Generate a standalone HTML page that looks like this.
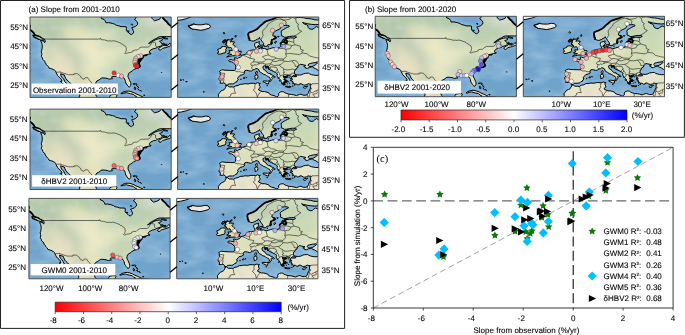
<!DOCTYPE html><html><head><meta charset="utf-8"><style>html,body{margin:0;padding:0;background:#fff;}body{width:685px;height:335px;overflow:hidden;}svg{display:block;will-change:transform;text-rendering:geometricPrecision;}text{font-family:"Liberation Sans",sans-serif;stroke:#000;stroke-width:0.1px;}text.serif{font-family:"Liberation Serif",serif;stroke-width:0.05px;}</style></head><body><svg width="685" height="335" viewBox="0 0 685 335" font-family='"Liberation Sans", sans-serif' fill="#000" stroke-linejoin="round"><defs><filter id="blur4" x="-50%" y="-50%" width="200%" height="200%"><feGaussianBlur stdDeviation="4"/></filter><clipPath id="mclip"><rect width="141.2" height="80.4"/></clipPath><filter id="otex" x="0" y="0" width="100%" height="100%"><feTurbulence type="fractalNoise" baseFrequency="0.035 0.08" numOctaves="3" seed="7"/><feColorMatrix type="matrix" values="0 0 0 0 0.60  0 0 0 0 0.78  0 0 0 0 0.92  0 0 0 0.75 -0.29"/></filter><filter id="ltex" x="0" y="0" width="100%" height="100%"><feTurbulence type="fractalNoise" baseFrequency="0.1" numOctaves="3" seed="11"/><feColorMatrix type="matrix" values="0 0 0 0 0.62  0 0 0 0 0.72  0 0 0 0 0.62  0 0 0 1.0 -0.43"/></filter><filter id="blur2" x="-20%" y="-20%" width="140%" height="140%"><feGaussianBlur stdDeviation="2"/></filter><clipPath id="naWclip"><path d="M-12.1,-4.0L-3.0,-4.0L-2.0,5.0L-0.4,7.6L0.0,8.6L-0.2,10.1L-1.0,10.9L-0.6,11.7L0.4,12.9L1.8,13.9L3.0,15.1L3.8,16.1L4.4,17.3L5.4,18.3L7.1,18.9L9.1,19.5L10.3,20.3L12.1,21.1L13.5,21.7L14.5,22.1L14.9,23.1L15.3,24.5L14.7,25.7L14.3,25.1L13.9,24.1L12.5,23.9L10.7,23.3L10.9,24.3L11.7,26.1L12.1,27.5L12.3,29.1L12.1,31.0L11.9,32.8L11.3,34.4L11.7,36.2L11.9,37.4L11.3,39.4L12.5,41.0L12.7,42.4L14.1,43.8L15.1,44.6L15.1,45.8L16.3,47.0L16.3,47.6L17.5,48.8L18.4,49.6L19.0,51.1L20.2,51.4L21.8,51.9L23.2,52.3L23.4,52.9L24.4,53.1L25.6,54.1L26.0,55.3L26.8,56.9L27.6,58.5L28.6,59.7L30.3,61.1L31.7,62.9L32.1,64.1L30.3,64.5L31.3,65.5L33.1,66.9L34.7,67.9L36.1,69.7L36.1,71.2L37.5,72.0L38.9,73.0L40.3,74.6L41.6,74.0L40.7,72.4L39.5,71.6L39.1,70.3L38.1,69.3L37.5,67.9L37.1,66.9L35.9,65.9L34.7,64.5L34.1,62.9L33.1,61.5L31.7,60.1L30.9,58.5L30.7,56.7L32.1,57.3L34.3,57.9L34.7,59.1L35.9,61.7L37.1,63.1L38.7,64.5L39.7,65.7L41.6,67.1L42.2,69.1L43.8,70.1L45.4,71.6L46.8,73.0L48.4,74.8L49.2,76.4L49.8,77.8L49.8,79.2L49.0,79.6L49.8,81.0L51.4,82.4L52.4,86.4L-12.1,86.4Z"/><path d="M68.2,84.4L68.4,82.0L67.8,80.6L66.2,79.0L65.8,77.6L65.2,76.2L65.0,74.6L65.2,72.2L65.6,70.3L66.2,68.5L65.8,66.7L66.0,65.1L67.0,63.9L68.8,63.1L70.6,61.9L71.2,61.1L73.0,60.9L75.2,61.1L77.1,61.3L78.3,61.9L79.7,62.1L81.5,61.7L82.3,61.9L81.9,60.5L81.5,59.9L82.7,59.5L84.3,59.5L85.1,59.5L86.3,59.5L87.7,59.5L89.4,60.1L90.2,60.9L91.8,60.3L92.8,60.1L93.6,60.7L94.6,62.1L95.2,63.3L95.4,64.7L95.8,65.9L96.6,67.1L97.2,68.1L98.2,69.1L98.6,69.9L99.6,69.9L100.1,69.5L100.7,68.3L100.9,66.7L100.5,65.3L99.6,63.5L99.2,62.3L98.4,60.9L98.0,59.5L98.2,57.9L98.6,56.7L99.4,55.7L101.1,54.7L102.5,53.7L103.7,52.5L105.1,52.1L106.3,51.1L107.7,50.9L108.9,50.3L109.9,49.6L109.7,48.6L109.3,47.4L108.9,46.4L108.3,46.2L108.1,45.2L108.3,43.8L107.9,42.4L108.5,41.4L108.9,42.8L109.1,44.2L109.1,45.6L109.7,44.8L110.5,43.6L110.9,42.6L110.3,41.8L109.9,41.2L110.9,41.8L111.1,42.3L112.0,41.6L112.8,40.6L113.0,39.4L112.8,38.8L113.4,38.4L115.0,38.0L117.0,37.6L118.2,37.2L119.2,37.2L119.8,37.0L121.0,36.8L121.1,36.3L120.8,36.1L120.0,36.6L119.6,35.8L119.2,35.0L119.6,34.2L120.6,33.0L122.0,32.4L123.4,31.6L125.1,31.4L126.7,30.8L127.3,30.1L128.9,29.7L130.5,29.1L131.9,28.5L132.5,28.9L131.5,29.5L129.7,30.6L128.7,31.4L128.9,32.6L130.1,33.2L131.5,32.4L132.7,31.4L133.9,31.0L135.1,30.8L137.2,30.1L139.2,29.5L140.6,28.7L141.6,28.3L140.8,27.5L140.4,26.5L140.0,26.0L139.2,26.9L138.2,28.1L137.2,28.7L135.8,28.7L134.1,28.5L132.7,28.1L131.9,27.1L131.5,26.1L130.5,24.9L129.5,24.3L130.7,23.9L132.1,23.5L132.7,22.5L131.9,21.9L130.1,21.6L128.1,21.9L126.1,22.5L124.1,23.5L122.2,24.7L120.8,25.7L119.2,26.3L118.6,26.4L119.8,25.5L121.2,24.3L122.8,23.3L124.5,22.3L126.3,21.5L128.1,20.3L130.1,19.7L132.1,19.6L134.1,19.6L136.6,19.6L139.2,19.7L141.2,19.5L142.8,18.7L144.4,17.7L146.6,17.1L148.3,16.5L149.3,15.5L149.7,14.1L148.7,12.9L146.6,11.5L144.2,11.1L142.0,9.6L140.2,8.4L138.4,7.0L137.4,5.6L136.2,4.2L134.7,3.0L133.3,1.4L132.1,-0.4L131.9,-4.0L161.4,-4.0L161.4,90.5L85.7,90.5L85.7,82.4L85.9,80.4L86.5,79.4L87.1,78.0L86.7,77.3L83.7,77.4L81.5,77.8L80.1,78.4L79.8,79.4L79.5,81.4L79.3,84.4Z"/><path d="M70.6,-4.0L71.0,0.0L71.6,1.6L74.0,2.4L75.4,4.2L76.0,5.8L78.7,5.6L82.3,6.4L84.7,7.2L86.1,8.2L88.8,8.8L91.0,9.6L93.8,9.6L96.2,9.8L96.4,11.7L96.2,13.5L97.6,14.9L99.0,15.9L100.1,17.1L101.5,17.5L102.5,16.9L103.3,15.9L103.7,14.9L103.1,13.5L102.7,11.9L101.5,10.9L103.3,10.3L105.5,9.4L107.5,7.6L107.7,6.0L106.9,4.6L105.9,3.4L104.5,2.6L105.7,1.2L106.1,0.0L105.7,-1.6L104.9,-4.0Z"/><path d="M131.9,-4.0L131.7,-0.6L130.7,0.4L129.9,2.0L127.9,2.8L125.9,3.4L124.5,3.8L123.2,2.6L122.2,1.6L121.6,0.2L121.0,-1.0L120.0,-4.0Z"/></clipPath><clipPath id="euWclip"><path d="M-10.1,84.4L40.3,84.4L40.7,81.4L40.9,79.4L40.7,77.4L41.9,75.8L43.4,73.9L45.2,73.2L46.8,72.4L47.8,70.8L48.4,69.5L48.6,68.7L49.2,68.3L48.4,67.7L47.8,67.1L47.6,66.7L46.4,65.9L45.6,65.9L44.6,66.3L43.2,66.1L42.4,66.3L42.8,64.5L42.6,63.3L41.6,62.9L41.4,61.5L42.4,59.9L42.8,58.3L42.6,56.5L42.6,55.1L41.8,54.3L43.8,53.1L45.0,52.8L47.4,53.2L50.4,53.3L52.8,53.4L55.5,53.5L56.9,53.5L57.7,52.5L58.1,50.9L58.1,49.0L57.7,47.8L56.3,46.6L55.5,45.6L53.9,44.8L51.8,44.6L51.0,43.6L51.4,43.0L53.5,42.6L55.1,43.2L57.3,43.0L57.3,41.8L56.7,40.8L58.1,40.8L60.1,41.6L60.9,40.8L62.9,40.2L63.7,39.4L63.7,38.4L65.6,38.0L67.4,37.4L68.2,36.6L69.0,36.0L69.8,34.8L70.2,34.2L71.6,33.6L73.6,33.2L74.8,33.0L76.7,33.0L77.9,32.4L78.5,31.8L77.9,30.4L77.3,29.1L76.9,28.1L77.1,26.5L77.9,25.9L79.9,25.3L81.9,24.6L81.7,25.7L81.3,26.7L82.5,27.3L81.7,28.1L80.7,28.7L79.9,29.3L80.1,30.4L80.7,31.2L82.5,31.6L82.9,32.2L84.7,31.8L86.7,31.4L88.4,32.0L89.4,32.4L91.8,31.8L93.8,31.2L95.8,30.6L98.0,30.8L98.0,31.4L100.1,31.3L101.9,30.4L103.1,29.7L103.3,28.1L102.9,26.5L104.1,25.3L106.1,24.6L107.5,25.9L109.1,26.1L109.7,24.3L108.9,23.5L107.9,22.7L107.9,21.7L109.9,21.1L113.0,20.9L117.0,21.1L119.0,20.1L118.0,19.3L115.0,19.1L112.0,19.5L108.9,20.1L106.9,20.3L105.5,19.3L103.7,18.7L103.9,16.7L103.5,15.1L103.9,13.7L105.9,12.5L107.9,11.3L109.9,10.3L111.7,9.6L111.5,8.8L110.1,8.4L107.9,8.4L105.3,8.6L103.5,9.6L103.3,10.9L101.5,12.3L99.8,13.1L97.8,14.1L96.2,15.3L95.4,17.1L95.2,18.7L97.2,19.5L98.6,20.7L97.4,21.5L96.0,22.1L94.2,22.9L94.0,24.3L93.6,26.1L92.6,27.7L90.2,27.7L89.2,29.3L86.5,29.3L86.5,28.3L85.9,27.7L86.3,26.9L85.3,25.5L84.3,24.1L83.3,22.5L82.3,21.5L81.9,20.4L81.3,21.7L79.9,22.1L77.9,23.3L75.6,24.1L73.8,23.9L71.8,22.9L71.8,21.5L71.0,20.9L71.0,19.3L70.6,18.1L70.8,16.5L71.4,15.7L73.2,14.9L75.0,14.3L76.7,13.5L78.3,12.7L79.9,11.7L81.1,10.3L82.7,8.8L84.5,7.4L86.1,6.0L87.5,4.8L89.2,4.0L91.2,3.4L92.8,2.8L94.6,2.4L96.8,1.4L98.4,0.6L99.8,0.2L101.9,-0.2L103.9,0.4L105.9,0.0L107.9,0.1L109.9,-0.1L112.0,0.2L114.0,-0.2L117.0,-0.1L119.0,0.4L121.0,0.6L123.0,0.4L126.1,0.8L128.1,1.3L131.1,1.6L134.1,2.0L137.2,2.8L140.2,3.0L142.2,2.8L145.2,2.8L145.2,-4.0L-10.1,-4.0Z"/><path d="M48.0,68.7L48.6,68.7L49.8,68.5L51.6,69.9L54.5,69.9L56.1,70.1L58.1,68.9L60.5,68.5L62.5,67.3L65.6,67.1L67.6,66.7L70.6,66.9L73.2,66.3L75.6,66.3L77.9,66.5L80.1,65.7L81.1,65.9L81.3,66.7L82.7,66.1L81.9,67.3L81.7,68.7L82.7,69.7L82.1,71.2L80.9,72.0L81.1,73.0L82.9,73.8L84.7,74.6L87.1,74.6L89.4,75.2L91.2,75.8L92.0,77.2L93.8,78.0L96.4,78.6L98.0,79.4L99.0,79.8L100.3,79.4L101.1,78.4L100.9,76.8L101.5,75.8L102.9,75.0L104.5,74.6L106.1,74.8L107.3,75.8L108.9,76.4L111.3,77.2L114.0,77.4L116.2,77.8L118.8,78.6L120.4,78.0L121.8,77.4L123.4,77.2L125.1,78.0L126.3,78.2L128.1,78.2L129.5,77.8L130.3,76.8L130.9,75.4L131.1,74.4L131.9,73.2L132.7,71.4L132.9,69.7L132.7,68.3L133.5,67.1L132.1,67.1L130.5,66.7L129.1,67.7L127.1,68.1L125.7,67.9L124.1,66.9L122.2,66.7L121.8,67.7L120.2,67.9L118.6,66.9L117.0,66.9L115.8,66.3L115.4,65.1L115.0,64.3L113.8,63.7L114.6,62.9L114.8,61.9L113.4,61.5L114.2,60.7L113.4,60.2L113.4,59.5L113.0,59.1L110.9,58.4L108.9,58.7L108.3,59.5L109.5,60.1L107.7,60.5L106.1,59.3L106.1,60.3L106.7,61.5L107.3,62.3L106.1,62.5L107.9,63.3L108.9,63.9L108.9,64.9L107.1,64.5L106.5,65.3L107.1,67.3L105.9,67.5L105.5,66.5L104.7,66.7L104.3,66.5L104.1,65.1L103.1,64.5L103.7,63.7L103.3,63.3L102.3,62.5L101.3,61.1L100.9,60.9L99.8,59.7L99.4,58.5L99.8,56.9L98.8,56.1L97.8,55.4L96.0,54.5L93.8,53.5L92.6,53.1L91.2,51.7L90.6,50.0L89.4,49.6L88.6,50.7L87.9,50.0L88.1,48.8L86.7,48.8L85.3,49.6L85.5,51.1L85.9,52.3L87.9,53.3L89.2,55.3L91.0,56.5L92.8,56.5L92.6,57.1L94.6,58.1L96.8,59.1L97.8,60.1L96.8,60.5L95.2,59.5L94.0,60.5L95.0,61.5L94.0,62.7L93.0,64.3L92.2,64.4L92.0,63.7L92.8,62.9L92.4,61.1L91.8,60.1L90.6,59.7L89.8,59.1L88.8,58.7L88.1,57.9L85.9,57.3L84.3,56.1L82.9,55.3L81.7,54.3L81.3,52.7L79.7,51.7L78.3,51.5L77.1,52.5L75.6,52.7L74.0,53.9L72.6,54.1L70.6,53.6L69.0,53.3L67.2,53.7L66.6,55.3L67.0,56.5L65.0,57.7L62.5,58.2L61.9,58.9L60.5,60.5L59.9,61.5L60.7,62.7L59.5,63.7L59.1,65.1L57.7,65.3L56.3,66.7L54.7,66.9L51.6,66.9L50.4,67.4L49.7,68.1L49.2,68.3L48.0,68.1Z"/><path d="M117.0,57.1L119.2,57.9L122.0,58.1L124.1,57.7L126.1,56.7L128.1,56.3L131.1,56.1L132.1,56.9L134.1,57.7L136.2,58.1L138.2,58.4L140.6,58.3L142.2,57.7L144.2,57.3L144.6,56.3L144.2,54.9L141.8,54.1L140.2,53.1L138.2,51.7L136.2,50.9L135.1,50.0L134.3,49.6L133.3,50.1L131.9,50.3L130.1,51.3L128.1,51.3L127.9,50.3L126.1,49.5L128.3,48.4L126.5,48.0L124.5,47.6L122.6,47.2L121.4,48.4L120.4,49.6L120.2,50.7L118.6,51.4L118.2,52.9L117.0,53.7L116.8,55.1L116.8,56.3Z"/><path d="M131.3,49.2L132.1,49.6L134.3,49.6L136.2,48.8L137.8,47.8L140.0,46.0L139.2,45.4L137.6,45.6L135.8,45.8L133.1,46.4L131.1,47.0L130.5,48.2Z"/><path d="M114.4,59.5L116.0,59.7L119.0,59.5L119.0,58.5L117.0,58.3L115.4,58.5Z"/><path d="M124.9,5.4L126.7,6.0L130.1,6.8L134.1,7.4L138.2,7.7L141.2,7.4L143.2,6.8L145.2,6.8L145.2,12.1L142.2,11.1L140.6,10.3L138.8,9.6L136.8,10.9L135.6,12.1L133.5,12.3L131.5,11.5L130.5,10.3L130.3,8.8L128.7,7.6L126.3,6.8Z"/></clipPath><g id="naMap" clip-path="url(#mclip)"><rect width="141.2" height="80.4" fill="#e5e5c2"/><g filter="url(#blur4)"><ellipse cx="66.6" cy="4.0" rx="80.7" ry="10.1" fill="#b4caac" opacity="1.0"/><ellipse cx="117.0" cy="10.1" rx="24.2" ry="10.1" fill="#bccdb2" opacity="1.0"/><ellipse cx="100.9" cy="22.1" rx="20.2" ry="8.0" fill="#bccfae" opacity="1.0"/><ellipse cx="125.1" cy="26.1" rx="12.1" ry="6.0" fill="#c0d2b0" opacity="1.0"/><ellipse cx="129.1" cy="3.0" rx="16.1" ry="6.0" fill="#d8ddd0" opacity="1.0"/><ellipse cx="12.1" cy="14.1" rx="12.1" ry="14.1" fill="#b4c8ac" opacity="1.0"/><ellipse cx="28.2" cy="20.1" rx="10.1" ry="10.1" fill="#bccbb0" opacity="1.0"/><ellipse cx="44.4" cy="14.1" rx="14.1" ry="6.0" fill="#e0e2bc" opacity="1.0"/><ellipse cx="60.5" cy="38.2" rx="18.2" ry="14.1" fill="#eae8c6" opacity="1.0"/><ellipse cx="38.3" cy="40.2" rx="12.1" ry="12.1" fill="#e4dcc0" opacity="1.0"/><ellipse cx="40.3" cy="32.2" rx="6.1" ry="6.0" fill="#c6d0b4" opacity="1.0"/><ellipse cx="48.4" cy="44.2" rx="6.1" ry="8.0" fill="#c8d0b6" opacity="1.0"/><ellipse cx="32.3" cy="54.3" rx="14.1" ry="8.0" fill="#ebe0c2" opacity="1.0"/><ellipse cx="96.8" cy="48.2" rx="12.1" ry="12.1" fill="#c6d6b6" opacity="1.0"/><ellipse cx="84.7" cy="54.3" rx="10.1" ry="8.0" fill="#d4dec0" opacity="1.0"/><ellipse cx="80.7" cy="26.1" rx="12.1" ry="5.0" fill="#c8d6b4" opacity="1.0"/><ellipse cx="54.5" cy="68.3" rx="12.1" ry="10.1" fill="#e2dcb8" opacity="1.0"/><ellipse cx="48.4" cy="60.3" rx="6.1" ry="8.0" fill="#ccd2b2" opacity="1.0"/><ellipse cx="62.5" cy="76.4" rx="8.1" ry="6.0" fill="#c8d2b4" opacity="1.0"/><ellipse cx="82.7" cy="79.8" rx="5.0" ry="3.0" fill="#b6cca8" opacity="1.0"/><ellipse cx="18.2" cy="40.2" rx="5.0" ry="6.0" fill="#c8d2b4" opacity="1.0"/><ellipse cx="24.2" cy="18.1" rx="8.1" ry="8.0" fill="#b8c8ac" opacity="1.0"/><ellipse cx="32.3" cy="28.1" rx="8.1" ry="7.0" fill="#c2ceb2" opacity="1.0"/><ellipse cx="42.4" cy="36.2" rx="7.1" ry="7.0" fill="#c8d0b6" opacity="1.0"/><ellipse cx="48.4" cy="46.2" rx="5.0" ry="7.0" fill="#c6d0b4" opacity="1.0"/><ellipse cx="17.1" cy="30.1" rx="4.0" ry="6.0" fill="#c4d0b2" opacity="1.0"/><ellipse cx="92.8" cy="50.3" rx="12.1" ry="8.0" fill="#c4d4b2" opacity="1.0"/><ellipse cx="80.7" cy="58.3" rx="10.1" ry="5.0" fill="#ccd8b6" opacity="1.0"/></g><rect width="141.2" height="80.4" filter="url(#ltex)"/><g fill="#70a3cb"><path d="M-12.1,-4.0L-3.0,-4.0L-2.0,5.0L-0.4,7.6L0.0,8.6L-0.2,10.1L-1.0,10.9L-0.6,11.7L0.4,12.9L1.8,13.9L3.0,15.1L3.8,16.1L4.4,17.3L5.4,18.3L7.1,18.9L9.1,19.5L10.3,20.3L12.1,21.1L13.5,21.7L14.5,22.1L14.9,23.1L15.3,24.5L14.7,25.7L14.3,25.1L13.9,24.1L12.5,23.9L10.7,23.3L10.9,24.3L11.7,26.1L12.1,27.5L12.3,29.1L12.1,31.0L11.9,32.8L11.3,34.4L11.7,36.2L11.9,37.4L11.3,39.4L12.5,41.0L12.7,42.4L14.1,43.8L15.1,44.6L15.1,45.8L16.3,47.0L16.3,47.6L17.5,48.8L18.4,49.6L19.0,51.1L20.2,51.4L21.8,51.9L23.2,52.3L23.4,52.9L24.4,53.1L25.6,54.1L26.0,55.3L26.8,56.9L27.6,58.5L28.6,59.7L30.3,61.1L31.7,62.9L32.1,64.1L30.3,64.5L31.3,65.5L33.1,66.9L34.7,67.9L36.1,69.7L36.1,71.2L37.5,72.0L38.9,73.0L40.3,74.6L41.6,74.0L40.7,72.4L39.5,71.6L39.1,70.3L38.1,69.3L37.5,67.9L37.1,66.9L35.9,65.9L34.7,64.5L34.1,62.9L33.1,61.5L31.7,60.1L30.9,58.5L30.7,56.7L32.1,57.3L34.3,57.9L34.7,59.1L35.9,61.7L37.1,63.1L38.7,64.5L39.7,65.7L41.6,67.1L42.2,69.1L43.8,70.1L45.4,71.6L46.8,73.0L48.4,74.8L49.2,76.4L49.8,77.8L49.8,79.2L49.0,79.6L49.8,81.0L51.4,82.4L52.4,86.4L-12.1,86.4Z"/><path d="M68.2,84.4L68.4,82.0L67.8,80.6L66.2,79.0L65.8,77.6L65.2,76.2L65.0,74.6L65.2,72.2L65.6,70.3L66.2,68.5L65.8,66.7L66.0,65.1L67.0,63.9L68.8,63.1L70.6,61.9L71.2,61.1L73.0,60.9L75.2,61.1L77.1,61.3L78.3,61.9L79.7,62.1L81.5,61.7L82.3,61.9L81.9,60.5L81.5,59.9L82.7,59.5L84.3,59.5L85.1,59.5L86.3,59.5L87.7,59.5L89.4,60.1L90.2,60.9L91.8,60.3L92.8,60.1L93.6,60.7L94.6,62.1L95.2,63.3L95.4,64.7L95.8,65.9L96.6,67.1L97.2,68.1L98.2,69.1L98.6,69.9L99.6,69.9L100.1,69.5L100.7,68.3L100.9,66.7L100.5,65.3L99.6,63.5L99.2,62.3L98.4,60.9L98.0,59.5L98.2,57.9L98.6,56.7L99.4,55.7L101.1,54.7L102.5,53.7L103.7,52.5L105.1,52.1L106.3,51.1L107.7,50.9L108.9,50.3L109.9,49.6L109.7,48.6L109.3,47.4L108.9,46.4L108.3,46.2L108.1,45.2L108.3,43.8L107.9,42.4L108.5,41.4L108.9,42.8L109.1,44.2L109.1,45.6L109.7,44.8L110.5,43.6L110.9,42.6L110.3,41.8L109.9,41.2L110.9,41.8L111.1,42.3L112.0,41.6L112.8,40.6L113.0,39.4L112.8,38.8L113.4,38.4L115.0,38.0L117.0,37.6L118.2,37.2L119.2,37.2L119.8,37.0L121.0,36.8L121.1,36.3L120.8,36.1L120.0,36.6L119.6,35.8L119.2,35.0L119.6,34.2L120.6,33.0L122.0,32.4L123.4,31.6L125.1,31.4L126.7,30.8L127.3,30.1L128.9,29.7L130.5,29.1L131.9,28.5L132.5,28.9L131.5,29.5L129.7,30.6L128.7,31.4L128.9,32.6L130.1,33.2L131.5,32.4L132.7,31.4L133.9,31.0L135.1,30.8L137.2,30.1L139.2,29.5L140.6,28.7L141.6,28.3L140.8,27.5L140.4,26.5L140.0,26.0L139.2,26.9L138.2,28.1L137.2,28.7L135.8,28.7L134.1,28.5L132.7,28.1L131.9,27.1L131.5,26.1L130.5,24.9L129.5,24.3L130.7,23.9L132.1,23.5L132.7,22.5L131.9,21.9L130.1,21.6L128.1,21.9L126.1,22.5L124.1,23.5L122.2,24.7L120.8,25.7L119.2,26.3L118.6,26.4L119.8,25.5L121.2,24.3L122.8,23.3L124.5,22.3L126.3,21.5L128.1,20.3L130.1,19.7L132.1,19.6L134.1,19.6L136.6,19.6L139.2,19.7L141.2,19.5L142.8,18.7L144.4,17.7L146.6,17.1L148.3,16.5L149.3,15.5L149.7,14.1L148.7,12.9L146.6,11.5L144.2,11.1L142.0,9.6L140.2,8.4L138.4,7.0L137.4,5.6L136.2,4.2L134.7,3.0L133.3,1.4L132.1,-0.4L131.9,-4.0L161.4,-4.0L161.4,90.5L85.7,90.5L85.7,82.4L85.9,80.4L86.5,79.4L87.1,78.0L86.7,77.3L83.7,77.4L81.5,77.8L80.1,78.4L79.8,79.4L79.5,81.4L79.3,84.4Z"/><path d="M70.6,-4.0L71.0,0.0L71.6,1.6L74.0,2.4L75.4,4.2L76.0,5.8L78.7,5.6L82.3,6.4L84.7,7.2L86.1,8.2L88.8,8.8L91.0,9.6L93.8,9.6L96.2,9.8L96.4,11.7L96.2,13.5L97.6,14.9L99.0,15.9L100.1,17.1L101.5,17.5L102.5,16.9L103.3,15.9L103.7,14.9L103.1,13.5L102.7,11.9L101.5,10.9L103.3,10.3L105.5,9.4L107.5,7.6L107.7,6.0L106.9,4.6L105.9,3.4L104.5,2.6L105.7,1.2L106.1,0.0L105.7,-1.6L104.9,-4.0Z"/><path d="M131.9,-4.0L131.7,-0.6L130.7,0.4L129.9,2.0L127.9,2.8L125.9,3.4L124.5,3.8L123.2,2.6L122.2,1.6L121.6,0.2L121.0,-1.0L120.0,-4.0Z"/></g><g clip-path="url(#naWclip)"><g fill="none" stroke="#80b4da" stroke-width="5" filter="url(#blur2)"><path d="M-12.1,-4.0L-3.0,-4.0L-2.0,5.0L-0.4,7.6L0.0,8.6L-0.2,10.1L-1.0,10.9L-0.6,11.7L0.4,12.9L1.8,13.9L3.0,15.1L3.8,16.1L4.4,17.3L5.4,18.3L7.1,18.9L9.1,19.5L10.3,20.3L12.1,21.1L13.5,21.7L14.5,22.1L14.9,23.1L15.3,24.5L14.7,25.7L14.3,25.1L13.9,24.1L12.5,23.9L10.7,23.3L10.9,24.3L11.7,26.1L12.1,27.5L12.3,29.1L12.1,31.0L11.9,32.8L11.3,34.4L11.7,36.2L11.9,37.4L11.3,39.4L12.5,41.0L12.7,42.4L14.1,43.8L15.1,44.6L15.1,45.8L16.3,47.0L16.3,47.6L17.5,48.8L18.4,49.6L19.0,51.1L20.2,51.4L21.8,51.9L23.2,52.3L23.4,52.9L24.4,53.1L25.6,54.1L26.0,55.3L26.8,56.9L27.6,58.5L28.6,59.7L30.3,61.1L31.7,62.9L32.1,64.1L30.3,64.5L31.3,65.5L33.1,66.9L34.7,67.9L36.1,69.7L36.1,71.2L37.5,72.0L38.9,73.0L40.3,74.6L41.6,74.0L40.7,72.4L39.5,71.6L39.1,70.3L38.1,69.3L37.5,67.9L37.1,66.9L35.9,65.9L34.7,64.5L34.1,62.9L33.1,61.5L31.7,60.1L30.9,58.5L30.7,56.7L32.1,57.3L34.3,57.9L34.7,59.1L35.9,61.7L37.1,63.1L38.7,64.5L39.7,65.7L41.6,67.1L42.2,69.1L43.8,70.1L45.4,71.6L46.8,73.0L48.4,74.8L49.2,76.4L49.8,77.8L49.8,79.2L49.0,79.6L49.8,81.0L51.4,82.4L52.4,86.4L-12.1,86.4Z"/><path d="M68.2,84.4L68.4,82.0L67.8,80.6L66.2,79.0L65.8,77.6L65.2,76.2L65.0,74.6L65.2,72.2L65.6,70.3L66.2,68.5L65.8,66.7L66.0,65.1L67.0,63.9L68.8,63.1L70.6,61.9L71.2,61.1L73.0,60.9L75.2,61.1L77.1,61.3L78.3,61.9L79.7,62.1L81.5,61.7L82.3,61.9L81.9,60.5L81.5,59.9L82.7,59.5L84.3,59.5L85.1,59.5L86.3,59.5L87.7,59.5L89.4,60.1L90.2,60.9L91.8,60.3L92.8,60.1L93.6,60.7L94.6,62.1L95.2,63.3L95.4,64.7L95.8,65.9L96.6,67.1L97.2,68.1L98.2,69.1L98.6,69.9L99.6,69.9L100.1,69.5L100.7,68.3L100.9,66.7L100.5,65.3L99.6,63.5L99.2,62.3L98.4,60.9L98.0,59.5L98.2,57.9L98.6,56.7L99.4,55.7L101.1,54.7L102.5,53.7L103.7,52.5L105.1,52.1L106.3,51.1L107.7,50.9L108.9,50.3L109.9,49.6L109.7,48.6L109.3,47.4L108.9,46.4L108.3,46.2L108.1,45.2L108.3,43.8L107.9,42.4L108.5,41.4L108.9,42.8L109.1,44.2L109.1,45.6L109.7,44.8L110.5,43.6L110.9,42.6L110.3,41.8L109.9,41.2L110.9,41.8L111.1,42.3L112.0,41.6L112.8,40.6L113.0,39.4L112.8,38.8L113.4,38.4L115.0,38.0L117.0,37.6L118.2,37.2L119.2,37.2L119.8,37.0L121.0,36.8L121.1,36.3L120.8,36.1L120.0,36.6L119.6,35.8L119.2,35.0L119.6,34.2L120.6,33.0L122.0,32.4L123.4,31.6L125.1,31.4L126.7,30.8L127.3,30.1L128.9,29.7L130.5,29.1L131.9,28.5L132.5,28.9L131.5,29.5L129.7,30.6L128.7,31.4L128.9,32.6L130.1,33.2L131.5,32.4L132.7,31.4L133.9,31.0L135.1,30.8L137.2,30.1L139.2,29.5L140.6,28.7L141.6,28.3L140.8,27.5L140.4,26.5L140.0,26.0L139.2,26.9L138.2,28.1L137.2,28.7L135.8,28.7L134.1,28.5L132.7,28.1L131.9,27.1L131.5,26.1L130.5,24.9L129.5,24.3L130.7,23.9L132.1,23.5L132.7,22.5L131.9,21.9L130.1,21.6L128.1,21.9L126.1,22.5L124.1,23.5L122.2,24.7L120.8,25.7L119.2,26.3L118.6,26.4L119.8,25.5L121.2,24.3L122.8,23.3L124.5,22.3L126.3,21.5L128.1,20.3L130.1,19.7L132.1,19.6L134.1,19.6L136.6,19.6L139.2,19.7L141.2,19.5L142.8,18.7L144.4,17.7L146.6,17.1L148.3,16.5L149.3,15.5L149.7,14.1L148.7,12.9L146.6,11.5L144.2,11.1L142.0,9.6L140.2,8.4L138.4,7.0L137.4,5.6L136.2,4.2L134.7,3.0L133.3,1.4L132.1,-0.4L131.9,-4.0L161.4,-4.0L161.4,90.5L85.7,90.5L85.7,82.4L85.9,80.4L86.5,79.4L87.1,78.0L86.7,77.3L83.7,77.4L81.5,77.8L80.1,78.4L79.8,79.4L79.5,81.4L79.3,84.4Z"/><path d="M70.6,-4.0L71.0,0.0L71.6,1.6L74.0,2.4L75.4,4.2L76.0,5.8L78.7,5.6L82.3,6.4L84.7,7.2L86.1,8.2L88.8,8.8L91.0,9.6L93.8,9.6L96.2,9.8L96.4,11.7L96.2,13.5L97.6,14.9L99.0,15.9L100.1,17.1L101.5,17.5L102.5,16.9L103.3,15.9L103.7,14.9L103.1,13.5L102.7,11.9L101.5,10.9L103.3,10.3L105.5,9.4L107.5,7.6L107.7,6.0L106.9,4.6L105.9,3.4L104.5,2.6L105.7,1.2L106.1,0.0L105.7,-1.6L104.9,-4.0Z"/><path d="M131.9,-4.0L131.7,-0.6L130.7,0.4L129.9,2.0L127.9,2.8L125.9,3.4L124.5,3.8L123.2,2.6L122.2,1.6L121.6,0.2L121.0,-1.0L120.0,-4.0Z"/></g><rect width="141.2" height="80.4" filter="url(#otex)"/></g><g fill="none" stroke="#000" stroke-width="1.0" stroke-linejoin="round"><path d="M-12.1,-4.0L-3.0,-4.0L-2.0,5.0L-0.4,7.6L0.0,8.6L-0.2,10.1L-1.0,10.9L-0.6,11.7L0.4,12.9L1.8,13.9L3.0,15.1L3.8,16.1L4.4,17.3L5.4,18.3L7.1,18.9L9.1,19.5L10.3,20.3L12.1,21.1L13.5,21.7L14.5,22.1L14.9,23.1L15.3,24.5L14.7,25.7L14.3,25.1L13.9,24.1L12.5,23.9L10.7,23.3L10.9,24.3L11.7,26.1L12.1,27.5L12.3,29.1L12.1,31.0L11.9,32.8L11.3,34.4L11.7,36.2L11.9,37.4L11.3,39.4L12.5,41.0L12.7,42.4L14.1,43.8L15.1,44.6L15.1,45.8L16.3,47.0L16.3,47.6L17.5,48.8L18.4,49.6L19.0,51.1L20.2,51.4L21.8,51.9L23.2,52.3L23.4,52.9L24.4,53.1L25.6,54.1L26.0,55.3L26.8,56.9L27.6,58.5L28.6,59.7L30.3,61.1L31.7,62.9L32.1,64.1L30.3,64.5L31.3,65.5L33.1,66.9L34.7,67.9L36.1,69.7L36.1,71.2L37.5,72.0L38.9,73.0L40.3,74.6L41.6,74.0L40.7,72.4L39.5,71.6L39.1,70.3L38.1,69.3L37.5,67.9L37.1,66.9L35.9,65.9L34.7,64.5L34.1,62.9L33.1,61.5L31.7,60.1L30.9,58.5L30.7,56.7L32.1,57.3L34.3,57.9L34.7,59.1L35.9,61.7L37.1,63.1L38.7,64.5L39.7,65.7L41.6,67.1L42.2,69.1L43.8,70.1L45.4,71.6L46.8,73.0L48.4,74.8L49.2,76.4L49.8,77.8L49.8,79.2L49.0,79.6L49.8,81.0L51.4,82.4L52.4,86.4L-12.1,86.4Z"/><path d="M68.2,84.4L68.4,82.0L67.8,80.6L66.2,79.0L65.8,77.6L65.2,76.2L65.0,74.6L65.2,72.2L65.6,70.3L66.2,68.5L65.8,66.7L66.0,65.1L67.0,63.9L68.8,63.1L70.6,61.9L71.2,61.1L73.0,60.9L75.2,61.1L77.1,61.3L78.3,61.9L79.7,62.1L81.5,61.7L82.3,61.9L81.9,60.5L81.5,59.9L82.7,59.5L84.3,59.5L85.1,59.5L86.3,59.5L87.7,59.5L89.4,60.1L90.2,60.9L91.8,60.3L92.8,60.1L93.6,60.7L94.6,62.1L95.2,63.3L95.4,64.7L95.8,65.9L96.6,67.1L97.2,68.1L98.2,69.1L98.6,69.9L99.6,69.9L100.1,69.5L100.7,68.3L100.9,66.7L100.5,65.3L99.6,63.5L99.2,62.3L98.4,60.9L98.0,59.5L98.2,57.9L98.6,56.7L99.4,55.7L101.1,54.7L102.5,53.7L103.7,52.5L105.1,52.1L106.3,51.1L107.7,50.9L108.9,50.3L109.9,49.6L109.7,48.6L109.3,47.4L108.9,46.4L108.3,46.2L108.1,45.2L108.3,43.8L107.9,42.4L108.5,41.4L108.9,42.8L109.1,44.2L109.1,45.6L109.7,44.8L110.5,43.6L110.9,42.6L110.3,41.8L109.9,41.2L110.9,41.8L111.1,42.3L112.0,41.6L112.8,40.6L113.0,39.4L112.8,38.8L113.4,38.4L115.0,38.0L117.0,37.6L118.2,37.2L119.2,37.2L119.8,37.0L121.0,36.8L121.1,36.3L120.8,36.1L120.0,36.6L119.6,35.8L119.2,35.0L119.6,34.2L120.6,33.0L122.0,32.4L123.4,31.6L125.1,31.4L126.7,30.8L127.3,30.1L128.9,29.7L130.5,29.1L131.9,28.5L132.5,28.9L131.5,29.5L129.7,30.6L128.7,31.4L128.9,32.6L130.1,33.2L131.5,32.4L132.7,31.4L133.9,31.0L135.1,30.8L137.2,30.1L139.2,29.5L140.6,28.7L141.6,28.3L140.8,27.5L140.4,26.5L140.0,26.0L139.2,26.9L138.2,28.1L137.2,28.7L135.8,28.7L134.1,28.5L132.7,28.1L131.9,27.1L131.5,26.1L130.5,24.9L129.5,24.3L130.7,23.9L132.1,23.5L132.7,22.5L131.9,21.9L130.1,21.6L128.1,21.9L126.1,22.5L124.1,23.5L122.2,24.7L120.8,25.7L119.2,26.3L118.6,26.4L119.8,25.5L121.2,24.3L122.8,23.3L124.5,22.3L126.3,21.5L128.1,20.3L130.1,19.7L132.1,19.6L134.1,19.6L136.6,19.6L139.2,19.7L141.2,19.5L142.8,18.7L144.4,17.7L146.6,17.1L148.3,16.5L149.3,15.5L149.7,14.1L148.7,12.9L146.6,11.5L144.2,11.1L142.0,9.6L140.2,8.4L138.4,7.0L137.4,5.6L136.2,4.2L134.7,3.0L133.3,1.4L132.1,-0.4L131.9,-4.0L161.4,-4.0L161.4,90.5L85.7,90.5L85.7,82.4L85.9,80.4L86.5,79.4L87.1,78.0L86.7,77.3L83.7,77.4L81.5,77.8L80.1,78.4L79.8,79.4L79.5,81.4L79.3,84.4Z"/><path d="M70.6,-4.0L71.0,0.0L71.6,1.6L74.0,2.4L75.4,4.2L76.0,5.8L78.7,5.6L82.3,6.4L84.7,7.2L86.1,8.2L88.8,8.8L91.0,9.6L93.8,9.6L96.2,9.8L96.4,11.7L96.2,13.5L97.6,14.9L99.0,15.9L100.1,17.1L101.5,17.5L102.5,16.9L103.3,15.9L103.7,14.9L103.1,13.5L102.7,11.9L101.5,10.9L103.3,10.3L105.5,9.4L107.5,7.6L107.7,6.0L106.9,4.6L105.9,3.4L104.5,2.6L105.7,1.2L106.1,0.0L105.7,-1.6L104.9,-4.0Z"/><path d="M131.9,-4.0L131.7,-0.6L130.7,0.4L129.9,2.0L127.9,2.8L125.9,3.4L124.5,3.8L123.2,2.6L122.2,1.6L121.6,0.2L121.0,-1.0L120.0,-4.0Z"/></g><g fill="none" stroke="#000" stroke-width="1.8" stroke-linejoin="round" stroke-linecap="round"><path d="M106.3,51.1L107.7,50.9L108.9,50.3L109.9,49.6L109.7,48.6L109.3,47.4L108.9,46.4L108.3,46.2L108.1,45.2L108.3,43.8L107.9,42.4L108.5,41.4L108.9,42.8L109.1,44.2L109.1,45.6L109.7,44.8L110.5,43.6L110.9,42.6L110.3,41.8L109.9,41.2L110.9,41.8L111.1,42.3L112.0,41.6L112.8,40.6L113.0,39.4"/><path d="M0.0,8.6L-0.2,10.1L-1.0,10.9L-0.6,11.7L0.4,12.9L1.8,13.9L3.0,15.1L3.8,16.1L4.4,17.3L5.4,18.3L7.1,18.9L9.1,19.5L10.3,20.3"/><path d="M3.2,18.5L4.2,19.9L6.5,20.9L8.5,21.9"/><path d="M146.6,11.5L144.2,11.1L142.0,9.6L140.2,8.4L138.4,7.0L137.4,5.6L136.2,4.2L134.7,3.0L133.3,1.4L132.1,-0.4"/></g><g stroke="#000" stroke-width="1.0" stroke-linejoin="round"><path d="M3.2,18.5L4.2,19.9L6.5,20.9L8.5,21.9L10.5,22.9L12.3,23.3L13.5,23.3L13.1,22.3L11.7,21.3L10.1,20.3L9.1,19.5L7.1,19.1L5.0,18.7Z" fill="#bfceb4"/><path d="M142.4,24.9L144.2,23.1L143.2,22.5L145.2,21.1L146.4,18.9L149.3,16.9L150.3,17.1L150.1,20.1L153.3,21.1L155.3,23.1L154.3,24.9L155.9,25.1L154.9,26.7L153.3,26.1L151.3,26.3L149.3,24.9L146.2,24.9Z" fill="#bfceb4"/><path d="M132.3,26.7L133.9,27.5L136.2,28.1L137.2,27.3L135.1,27.2L133.1,26.1Z" fill="#bfceb4"/><path d="M132.1,20.4L135.1,20.7L137.8,21.8L136.2,22.0L132.7,21.1Z" fill="#bfceb4"/><path d="M113.0,39.0L115.0,38.9L117.0,38.5L117.2,38.1L115.0,38.3L113.4,38.5Z" fill="#e8e4c0"/><path d="M90.8,76.6L92.8,75.2L95.8,74.2L98.8,74.1L100.9,74.5L103.9,75.6L105.9,76.8L108.9,78.0L110.9,79.0L112.8,79.9L112.0,80.6L109.9,80.7L105.9,80.7L106.5,79.4L104.9,78.9L103.3,77.3L100.5,76.7L97.8,76.1L96.4,75.6L94.0,76.0L92.0,76.8Z" fill="#e8e4c0"/><path d="M104.5,69.9L105.5,70.6L105.7,72.0L105.1,72.8L104.3,71.4Z" fill="#e8e4c0"/><path d="M102.9,66.9L104.9,66.8L105.1,67.1L103.3,67.2Z" fill="#e8e4c0"/><path d="M105.9,66.3L106.9,67.3L106.5,68.5L106.1,67.5Z" fill="#e8e4c0"/><path d="M107.3,69.1L108.5,69.9L108.7,71.0L108.1,70.1L107.5,69.5Z" fill="#e8e4c0"/><path d="M107.7,71.6L109.1,73.2L109.3,73.4L108.1,72.2Z" fill="#e8e4c0"/><path d="M110.3,73.0L111.1,74.2L111.3,74.4L110.5,73.4Z" fill="#e8e4c0"/><path d="M113.6,78.0L115.0,78.2L114.8,78.6L113.8,78.5Z" fill="#e8e4c0"/><path d="M112.0,80.6L115.4,80.5L118.0,80.6L121.0,81.0L124.5,83.2L112.0,84.0Z" fill="#e8e4c0"/><path d="M131.3,55.5L131.9,55.6L131.6,55.9Z" fill="#e8e4c0"/><path d="M97.2,13.9L99.2,14.1L98.4,14.5Z" fill="#e8e4c0"/><path d="M101.9,6.8L102.9,7.8L102.3,8.2L101.3,7.4Z" fill="#e8e4c0"/></g><g fill="none" stroke="#1a1a1a" stroke-width="0.6" stroke-linejoin="round"><path d="M13.5,22.1L70.3,22.1L70.3,21.3L71.0,21.5L71.4,22.7L74.6,22.9L77.7,23.9L80.7,23.9L81.7,24.1L83.9,23.7L87.7,24.9L90.8,26.1L91.6,27.1L92.6,27.1L93.0,27.9L93.8,28.3L95.8,29.5L96.4,32.2L96.0,34.2L95.8,35.0L94.6,36.0L95.4,36.8L97.8,35.8L100.9,35.4L102.9,34.6L102.8,33.8L104.9,33.0L107.3,33.0L108.3,32.0L109.9,30.8L111.5,30.1L118.0,30.1L119.0,29.5L120.4,28.3L121.0,26.7L122.6,25.2L124.5,25.4L125.5,25.9L125.5,28.7L126.3,28.9L127.1,30.1"/><path d="M26.0,55.3L30.9,54.9L30.7,55.3L38.3,57.7L44.0,57.7L44.0,56.7L47.4,56.7L50.4,58.9L51.4,61.1L54.1,62.3L55.1,60.7L57.7,60.7L59.9,63.9L61.5,65.3L62.3,67.5L65.6,68.5L66.2,68.5"/><path d="M0.0,8.2L-0.2,7.8L-3.0,6.8"/><path d="M77.9,85.8L78.7,84.8L82.4,84.8L84.1,83.4"/></g></g><g id="euMap" clip-path="url(#mclip)"><rect width="141.2" height="80.4" fill="#e5e5c2"/><g filter="url(#blur4)"><ellipse cx="96.8" cy="10.1" rx="18.2" ry="12.1" fill="#bfd2ae" opacity="1.0"/><ellipse cx="115.0" cy="12.1" rx="14.1" ry="10.1" fill="#c2d4ae" opacity="1.0"/><ellipse cx="90.8" cy="20.1" rx="8.1" ry="6.0" fill="#c6d4b0" opacity="1.0"/><ellipse cx="78.7" cy="17.1" rx="7.1" ry="6.0" fill="#bcc6b4" opacity="1.0"/><ellipse cx="88.8" cy="8.0" rx="6.1" ry="6.0" fill="#bcc8b4" opacity="1.0"/><ellipse cx="125.1" cy="28.1" rx="18.2" ry="12.1" fill="#ccd9b0" opacity="1.0"/><ellipse cx="129.1" cy="10.1" rx="16.1" ry="10.1" fill="#c4d6b6" opacity="1.0"/><ellipse cx="108.9" cy="38.2" rx="10.1" ry="6.0" fill="#d8dfb6" opacity="1.0"/><ellipse cx="68.6" cy="44.2" rx="14.1" ry="8.0" fill="#dce0bc" opacity="1.0"/><ellipse cx="52.4" cy="60.3" rx="10.1" ry="6.0" fill="#e6e4c4" opacity="1.0"/><ellipse cx="102.9" cy="46.2" rx="14.1" ry="7.0" fill="#cdd9b0" opacity="1.0"/><ellipse cx="115.0" cy="46.2" rx="10.1" ry="6.0" fill="#d0dab2" opacity="1.0"/><ellipse cx="80.7" cy="47.2" rx="7.1" ry="2.4" fill="#c8d0b8" opacity="1.0"/><ellipse cx="108.9" cy="56.3" rx="8.1" ry="4.0" fill="#ccd6b2" opacity="1.0"/><ellipse cx="127.1" cy="62.3" rx="14.1" ry="5.0" fill="#ebe6d2" opacity="1.0"/><ellipse cx="76.7" cy="78.4" rx="40.3" ry="6.0" fill="#f0e4d0" opacity="1.0"/><ellipse cx="117.0" cy="79.4" rx="16.1" ry="3.0" fill="#eee2cc" opacity="1.0"/><ellipse cx="137.2" cy="74.4" rx="8.1" ry="6.0" fill="#ece2c8" opacity="1.0"/></g><rect width="141.2" height="80.4" filter="url(#ltex)"/><g fill="#70a3cb"><path d="M-10.1,84.4L40.3,84.4L40.7,81.4L40.9,79.4L40.7,77.4L41.9,75.8L43.4,73.9L45.2,73.2L46.8,72.4L47.8,70.8L48.4,69.5L48.6,68.7L49.2,68.3L48.4,67.7L47.8,67.1L47.6,66.7L46.4,65.9L45.6,65.9L44.6,66.3L43.2,66.1L42.4,66.3L42.8,64.5L42.6,63.3L41.6,62.9L41.4,61.5L42.4,59.9L42.8,58.3L42.6,56.5L42.6,55.1L41.8,54.3L43.8,53.1L45.0,52.8L47.4,53.2L50.4,53.3L52.8,53.4L55.5,53.5L56.9,53.5L57.7,52.5L58.1,50.9L58.1,49.0L57.7,47.8L56.3,46.6L55.5,45.6L53.9,44.8L51.8,44.6L51.0,43.6L51.4,43.0L53.5,42.6L55.1,43.2L57.3,43.0L57.3,41.8L56.7,40.8L58.1,40.8L60.1,41.6L60.9,40.8L62.9,40.2L63.7,39.4L63.7,38.4L65.6,38.0L67.4,37.4L68.2,36.6L69.0,36.0L69.8,34.8L70.2,34.2L71.6,33.6L73.6,33.2L74.8,33.0L76.7,33.0L77.9,32.4L78.5,31.8L77.9,30.4L77.3,29.1L76.9,28.1L77.1,26.5L77.9,25.9L79.9,25.3L81.9,24.6L81.7,25.7L81.3,26.7L82.5,27.3L81.7,28.1L80.7,28.7L79.9,29.3L80.1,30.4L80.7,31.2L82.5,31.6L82.9,32.2L84.7,31.8L86.7,31.4L88.4,32.0L89.4,32.4L91.8,31.8L93.8,31.2L95.8,30.6L98.0,30.8L98.0,31.4L100.1,31.3L101.9,30.4L103.1,29.7L103.3,28.1L102.9,26.5L104.1,25.3L106.1,24.6L107.5,25.9L109.1,26.1L109.7,24.3L108.9,23.5L107.9,22.7L107.9,21.7L109.9,21.1L113.0,20.9L117.0,21.1L119.0,20.1L118.0,19.3L115.0,19.1L112.0,19.5L108.9,20.1L106.9,20.3L105.5,19.3L103.7,18.7L103.9,16.7L103.5,15.1L103.9,13.7L105.9,12.5L107.9,11.3L109.9,10.3L111.7,9.6L111.5,8.8L110.1,8.4L107.9,8.4L105.3,8.6L103.5,9.6L103.3,10.9L101.5,12.3L99.8,13.1L97.8,14.1L96.2,15.3L95.4,17.1L95.2,18.7L97.2,19.5L98.6,20.7L97.4,21.5L96.0,22.1L94.2,22.9L94.0,24.3L93.6,26.1L92.6,27.7L90.2,27.7L89.2,29.3L86.5,29.3L86.5,28.3L85.9,27.7L86.3,26.9L85.3,25.5L84.3,24.1L83.3,22.5L82.3,21.5L81.9,20.4L81.3,21.7L79.9,22.1L77.9,23.3L75.6,24.1L73.8,23.9L71.8,22.9L71.8,21.5L71.0,20.9L71.0,19.3L70.6,18.1L70.8,16.5L71.4,15.7L73.2,14.9L75.0,14.3L76.7,13.5L78.3,12.7L79.9,11.7L81.1,10.3L82.7,8.8L84.5,7.4L86.1,6.0L87.5,4.8L89.2,4.0L91.2,3.4L92.8,2.8L94.6,2.4L96.8,1.4L98.4,0.6L99.8,0.2L101.9,-0.2L103.9,0.4L105.9,0.0L107.9,0.1L109.9,-0.1L112.0,0.2L114.0,-0.2L117.0,-0.1L119.0,0.4L121.0,0.6L123.0,0.4L126.1,0.8L128.1,1.3L131.1,1.6L134.1,2.0L137.2,2.8L140.2,3.0L142.2,2.8L145.2,2.8L145.2,-4.0L-10.1,-4.0Z"/><path d="M48.0,68.7L48.6,68.7L49.8,68.5L51.6,69.9L54.5,69.9L56.1,70.1L58.1,68.9L60.5,68.5L62.5,67.3L65.6,67.1L67.6,66.7L70.6,66.9L73.2,66.3L75.6,66.3L77.9,66.5L80.1,65.7L81.1,65.9L81.3,66.7L82.7,66.1L81.9,67.3L81.7,68.7L82.7,69.7L82.1,71.2L80.9,72.0L81.1,73.0L82.9,73.8L84.7,74.6L87.1,74.6L89.4,75.2L91.2,75.8L92.0,77.2L93.8,78.0L96.4,78.6L98.0,79.4L99.0,79.8L100.3,79.4L101.1,78.4L100.9,76.8L101.5,75.8L102.9,75.0L104.5,74.6L106.1,74.8L107.3,75.8L108.9,76.4L111.3,77.2L114.0,77.4L116.2,77.8L118.8,78.6L120.4,78.0L121.8,77.4L123.4,77.2L125.1,78.0L126.3,78.2L128.1,78.2L129.5,77.8L130.3,76.8L130.9,75.4L131.1,74.4L131.9,73.2L132.7,71.4L132.9,69.7L132.7,68.3L133.5,67.1L132.1,67.1L130.5,66.7L129.1,67.7L127.1,68.1L125.7,67.9L124.1,66.9L122.2,66.7L121.8,67.7L120.2,67.9L118.6,66.9L117.0,66.9L115.8,66.3L115.4,65.1L115.0,64.3L113.8,63.7L114.6,62.9L114.8,61.9L113.4,61.5L114.2,60.7L113.4,60.2L113.4,59.5L113.0,59.1L110.9,58.4L108.9,58.7L108.3,59.5L109.5,60.1L107.7,60.5L106.1,59.3L106.1,60.3L106.7,61.5L107.3,62.3L106.1,62.5L107.9,63.3L108.9,63.9L108.9,64.9L107.1,64.5L106.5,65.3L107.1,67.3L105.9,67.5L105.5,66.5L104.7,66.7L104.3,66.5L104.1,65.1L103.1,64.5L103.7,63.7L103.3,63.3L102.3,62.5L101.3,61.1L100.9,60.9L99.8,59.7L99.4,58.5L99.8,56.9L98.8,56.1L97.8,55.4L96.0,54.5L93.8,53.5L92.6,53.1L91.2,51.7L90.6,50.0L89.4,49.6L88.6,50.7L87.9,50.0L88.1,48.8L86.7,48.8L85.3,49.6L85.5,51.1L85.9,52.3L87.9,53.3L89.2,55.3L91.0,56.5L92.8,56.5L92.6,57.1L94.6,58.1L96.8,59.1L97.8,60.1L96.8,60.5L95.2,59.5L94.0,60.5L95.0,61.5L94.0,62.7L93.0,64.3L92.2,64.4L92.0,63.7L92.8,62.9L92.4,61.1L91.8,60.1L90.6,59.7L89.8,59.1L88.8,58.7L88.1,57.9L85.9,57.3L84.3,56.1L82.9,55.3L81.7,54.3L81.3,52.7L79.7,51.7L78.3,51.5L77.1,52.5L75.6,52.7L74.0,53.9L72.6,54.1L70.6,53.6L69.0,53.3L67.2,53.7L66.6,55.3L67.0,56.5L65.0,57.7L62.5,58.2L61.9,58.9L60.5,60.5L59.9,61.5L60.7,62.7L59.5,63.7L59.1,65.1L57.7,65.3L56.3,66.7L54.7,66.9L51.6,66.9L50.4,67.4L49.7,68.1L49.2,68.3L48.0,68.1Z"/><path d="M117.0,57.1L119.2,57.9L122.0,58.1L124.1,57.7L126.1,56.7L128.1,56.3L131.1,56.1L132.1,56.9L134.1,57.7L136.2,58.1L138.2,58.4L140.6,58.3L142.2,57.7L144.2,57.3L144.6,56.3L144.2,54.9L141.8,54.1L140.2,53.1L138.2,51.7L136.2,50.9L135.1,50.0L134.3,49.6L133.3,50.1L131.9,50.3L130.1,51.3L128.1,51.3L127.9,50.3L126.1,49.5L128.3,48.4L126.5,48.0L124.5,47.6L122.6,47.2L121.4,48.4L120.4,49.6L120.2,50.7L118.6,51.4L118.2,52.9L117.0,53.7L116.8,55.1L116.8,56.3Z"/><path d="M131.3,49.2L132.1,49.6L134.3,49.6L136.2,48.8L137.8,47.8L140.0,46.0L139.2,45.4L137.6,45.6L135.8,45.8L133.1,46.4L131.1,47.0L130.5,48.2Z"/><path d="M114.4,59.5L116.0,59.7L119.0,59.5L119.0,58.5L117.0,58.3L115.4,58.5Z"/><path d="M124.9,5.4L126.7,6.0L130.1,6.8L134.1,7.4L138.2,7.7L141.2,7.4L143.2,6.8L145.2,6.8L145.2,12.1L142.2,11.1L140.6,10.3L138.8,9.6L136.8,10.9L135.6,12.1L133.5,12.3L131.5,11.5L130.5,10.3L130.3,8.8L128.7,7.6L126.3,6.8Z"/></g><g clip-path="url(#euWclip)"><g fill="none" stroke="#80b4da" stroke-width="5" filter="url(#blur2)"><path d="M-10.1,84.4L40.3,84.4L40.7,81.4L40.9,79.4L40.7,77.4L41.9,75.8L43.4,73.9L45.2,73.2L46.8,72.4L47.8,70.8L48.4,69.5L48.6,68.7L49.2,68.3L48.4,67.7L47.8,67.1L47.6,66.7L46.4,65.9L45.6,65.9L44.6,66.3L43.2,66.1L42.4,66.3L42.8,64.5L42.6,63.3L41.6,62.9L41.4,61.5L42.4,59.9L42.8,58.3L42.6,56.5L42.6,55.1L41.8,54.3L43.8,53.1L45.0,52.8L47.4,53.2L50.4,53.3L52.8,53.4L55.5,53.5L56.9,53.5L57.7,52.5L58.1,50.9L58.1,49.0L57.7,47.8L56.3,46.6L55.5,45.6L53.9,44.8L51.8,44.6L51.0,43.6L51.4,43.0L53.5,42.6L55.1,43.2L57.3,43.0L57.3,41.8L56.7,40.8L58.1,40.8L60.1,41.6L60.9,40.8L62.9,40.2L63.7,39.4L63.7,38.4L65.6,38.0L67.4,37.4L68.2,36.6L69.0,36.0L69.8,34.8L70.2,34.2L71.6,33.6L73.6,33.2L74.8,33.0L76.7,33.0L77.9,32.4L78.5,31.8L77.9,30.4L77.3,29.1L76.9,28.1L77.1,26.5L77.9,25.9L79.9,25.3L81.9,24.6L81.7,25.7L81.3,26.7L82.5,27.3L81.7,28.1L80.7,28.7L79.9,29.3L80.1,30.4L80.7,31.2L82.5,31.6L82.9,32.2L84.7,31.8L86.7,31.4L88.4,32.0L89.4,32.4L91.8,31.8L93.8,31.2L95.8,30.6L98.0,30.8L98.0,31.4L100.1,31.3L101.9,30.4L103.1,29.7L103.3,28.1L102.9,26.5L104.1,25.3L106.1,24.6L107.5,25.9L109.1,26.1L109.7,24.3L108.9,23.5L107.9,22.7L107.9,21.7L109.9,21.1L113.0,20.9L117.0,21.1L119.0,20.1L118.0,19.3L115.0,19.1L112.0,19.5L108.9,20.1L106.9,20.3L105.5,19.3L103.7,18.7L103.9,16.7L103.5,15.1L103.9,13.7L105.9,12.5L107.9,11.3L109.9,10.3L111.7,9.6L111.5,8.8L110.1,8.4L107.9,8.4L105.3,8.6L103.5,9.6L103.3,10.9L101.5,12.3L99.8,13.1L97.8,14.1L96.2,15.3L95.4,17.1L95.2,18.7L97.2,19.5L98.6,20.7L97.4,21.5L96.0,22.1L94.2,22.9L94.0,24.3L93.6,26.1L92.6,27.7L90.2,27.7L89.2,29.3L86.5,29.3L86.5,28.3L85.9,27.7L86.3,26.9L85.3,25.5L84.3,24.1L83.3,22.5L82.3,21.5L81.9,20.4L81.3,21.7L79.9,22.1L77.9,23.3L75.6,24.1L73.8,23.9L71.8,22.9L71.8,21.5L71.0,20.9L71.0,19.3L70.6,18.1L70.8,16.5L71.4,15.7L73.2,14.9L75.0,14.3L76.7,13.5L78.3,12.7L79.9,11.7L81.1,10.3L82.7,8.8L84.5,7.4L86.1,6.0L87.5,4.8L89.2,4.0L91.2,3.4L92.8,2.8L94.6,2.4L96.8,1.4L98.4,0.6L99.8,0.2L101.9,-0.2L103.9,0.4L105.9,0.0L107.9,0.1L109.9,-0.1L112.0,0.2L114.0,-0.2L117.0,-0.1L119.0,0.4L121.0,0.6L123.0,0.4L126.1,0.8L128.1,1.3L131.1,1.6L134.1,2.0L137.2,2.8L140.2,3.0L142.2,2.8L145.2,2.8L145.2,-4.0L-10.1,-4.0Z"/><path d="M48.0,68.7L48.6,68.7L49.8,68.5L51.6,69.9L54.5,69.9L56.1,70.1L58.1,68.9L60.5,68.5L62.5,67.3L65.6,67.1L67.6,66.7L70.6,66.9L73.2,66.3L75.6,66.3L77.9,66.5L80.1,65.7L81.1,65.9L81.3,66.7L82.7,66.1L81.9,67.3L81.7,68.7L82.7,69.7L82.1,71.2L80.9,72.0L81.1,73.0L82.9,73.8L84.7,74.6L87.1,74.6L89.4,75.2L91.2,75.8L92.0,77.2L93.8,78.0L96.4,78.6L98.0,79.4L99.0,79.8L100.3,79.4L101.1,78.4L100.9,76.8L101.5,75.8L102.9,75.0L104.5,74.6L106.1,74.8L107.3,75.8L108.9,76.4L111.3,77.2L114.0,77.4L116.2,77.8L118.8,78.6L120.4,78.0L121.8,77.4L123.4,77.2L125.1,78.0L126.3,78.2L128.1,78.2L129.5,77.8L130.3,76.8L130.9,75.4L131.1,74.4L131.9,73.2L132.7,71.4L132.9,69.7L132.7,68.3L133.5,67.1L132.1,67.1L130.5,66.7L129.1,67.7L127.1,68.1L125.7,67.9L124.1,66.9L122.2,66.7L121.8,67.7L120.2,67.9L118.6,66.9L117.0,66.9L115.8,66.3L115.4,65.1L115.0,64.3L113.8,63.7L114.6,62.9L114.8,61.9L113.4,61.5L114.2,60.7L113.4,60.2L113.4,59.5L113.0,59.1L110.9,58.4L108.9,58.7L108.3,59.5L109.5,60.1L107.7,60.5L106.1,59.3L106.1,60.3L106.7,61.5L107.3,62.3L106.1,62.5L107.9,63.3L108.9,63.9L108.9,64.9L107.1,64.5L106.5,65.3L107.1,67.3L105.9,67.5L105.5,66.5L104.7,66.7L104.3,66.5L104.1,65.1L103.1,64.5L103.7,63.7L103.3,63.3L102.3,62.5L101.3,61.1L100.9,60.9L99.8,59.7L99.4,58.5L99.8,56.9L98.8,56.1L97.8,55.4L96.0,54.5L93.8,53.5L92.6,53.1L91.2,51.7L90.6,50.0L89.4,49.6L88.6,50.7L87.9,50.0L88.1,48.8L86.7,48.8L85.3,49.6L85.5,51.1L85.9,52.3L87.9,53.3L89.2,55.3L91.0,56.5L92.8,56.5L92.6,57.1L94.6,58.1L96.8,59.1L97.8,60.1L96.8,60.5L95.2,59.5L94.0,60.5L95.0,61.5L94.0,62.7L93.0,64.3L92.2,64.4L92.0,63.7L92.8,62.9L92.4,61.1L91.8,60.1L90.6,59.7L89.8,59.1L88.8,58.7L88.1,57.9L85.9,57.3L84.3,56.1L82.9,55.3L81.7,54.3L81.3,52.7L79.7,51.7L78.3,51.5L77.1,52.5L75.6,52.7L74.0,53.9L72.6,54.1L70.6,53.6L69.0,53.3L67.2,53.7L66.6,55.3L67.0,56.5L65.0,57.7L62.5,58.2L61.9,58.9L60.5,60.5L59.9,61.5L60.7,62.7L59.5,63.7L59.1,65.1L57.7,65.3L56.3,66.7L54.7,66.9L51.6,66.9L50.4,67.4L49.7,68.1L49.2,68.3L48.0,68.1Z"/><path d="M117.0,57.1L119.2,57.9L122.0,58.1L124.1,57.7L126.1,56.7L128.1,56.3L131.1,56.1L132.1,56.9L134.1,57.7L136.2,58.1L138.2,58.4L140.6,58.3L142.2,57.7L144.2,57.3L144.6,56.3L144.2,54.9L141.8,54.1L140.2,53.1L138.2,51.7L136.2,50.9L135.1,50.0L134.3,49.6L133.3,50.1L131.9,50.3L130.1,51.3L128.1,51.3L127.9,50.3L126.1,49.5L128.3,48.4L126.5,48.0L124.5,47.6L122.6,47.2L121.4,48.4L120.4,49.6L120.2,50.7L118.6,51.4L118.2,52.9L117.0,53.7L116.8,55.1L116.8,56.3Z"/><path d="M131.3,49.2L132.1,49.6L134.3,49.6L136.2,48.8L137.8,47.8L140.0,46.0L139.2,45.4L137.6,45.6L135.8,45.8L133.1,46.4L131.1,47.0L130.5,48.2Z"/><path d="M114.4,59.5L116.0,59.7L119.0,59.5L119.0,58.5L117.0,58.3L115.4,58.5Z"/><path d="M124.9,5.4L126.7,6.0L130.1,6.8L134.1,7.4L138.2,7.7L141.2,7.4L143.2,6.8L145.2,6.8L145.2,12.1L142.2,11.1L140.6,10.3L138.8,9.6L136.8,10.9L135.6,12.1L133.5,12.3L131.5,11.5L130.5,10.3L130.3,8.8L128.7,7.6L126.3,6.8Z"/></g><rect width="141.2" height="80.4" filter="url(#otex)"/></g><g fill="none" stroke="#000" stroke-width="1.0" stroke-linejoin="round"><path d="M-10.1,84.4L40.3,84.4L40.7,81.4L40.9,79.4L40.7,77.4L41.9,75.8L43.4,73.9L45.2,73.2L46.8,72.4L47.8,70.8L48.4,69.5L48.6,68.7L49.2,68.3L48.4,67.7L47.8,67.1L47.6,66.7L46.4,65.9L45.6,65.9L44.6,66.3L43.2,66.1L42.4,66.3L42.8,64.5L42.6,63.3L41.6,62.9L41.4,61.5L42.4,59.9L42.8,58.3L42.6,56.5L42.6,55.1L41.8,54.3L43.8,53.1L45.0,52.8L47.4,53.2L50.4,53.3L52.8,53.4L55.5,53.5L56.9,53.5L57.7,52.5L58.1,50.9L58.1,49.0L57.7,47.8L56.3,46.6L55.5,45.6L53.9,44.8L51.8,44.6L51.0,43.6L51.4,43.0L53.5,42.6L55.1,43.2L57.3,43.0L57.3,41.8L56.7,40.8L58.1,40.8L60.1,41.6L60.9,40.8L62.9,40.2L63.7,39.4L63.7,38.4L65.6,38.0L67.4,37.4L68.2,36.6L69.0,36.0L69.8,34.8L70.2,34.2L71.6,33.6L73.6,33.2L74.8,33.0L76.7,33.0L77.9,32.4L78.5,31.8L77.9,30.4L77.3,29.1L76.9,28.1L77.1,26.5L77.9,25.9L79.9,25.3L81.9,24.6L81.7,25.7L81.3,26.7L82.5,27.3L81.7,28.1L80.7,28.7L79.9,29.3L80.1,30.4L80.7,31.2L82.5,31.6L82.9,32.2L84.7,31.8L86.7,31.4L88.4,32.0L89.4,32.4L91.8,31.8L93.8,31.2L95.8,30.6L98.0,30.8L98.0,31.4L100.1,31.3L101.9,30.4L103.1,29.7L103.3,28.1L102.9,26.5L104.1,25.3L106.1,24.6L107.5,25.9L109.1,26.1L109.7,24.3L108.9,23.5L107.9,22.7L107.9,21.7L109.9,21.1L113.0,20.9L117.0,21.1L119.0,20.1L118.0,19.3L115.0,19.1L112.0,19.5L108.9,20.1L106.9,20.3L105.5,19.3L103.7,18.7L103.9,16.7L103.5,15.1L103.9,13.7L105.9,12.5L107.9,11.3L109.9,10.3L111.7,9.6L111.5,8.8L110.1,8.4L107.9,8.4L105.3,8.6L103.5,9.6L103.3,10.9L101.5,12.3L99.8,13.1L97.8,14.1L96.2,15.3L95.4,17.1L95.2,18.7L97.2,19.5L98.6,20.7L97.4,21.5L96.0,22.1L94.2,22.9L94.0,24.3L93.6,26.1L92.6,27.7L90.2,27.7L89.2,29.3L86.5,29.3L86.5,28.3L85.9,27.7L86.3,26.9L85.3,25.5L84.3,24.1L83.3,22.5L82.3,21.5L81.9,20.4L81.3,21.7L79.9,22.1L77.9,23.3L75.6,24.1L73.8,23.9L71.8,22.9L71.8,21.5L71.0,20.9L71.0,19.3L70.6,18.1L70.8,16.5L71.4,15.7L73.2,14.9L75.0,14.3L76.7,13.5L78.3,12.7L79.9,11.7L81.1,10.3L82.7,8.8L84.5,7.4L86.1,6.0L87.5,4.8L89.2,4.0L91.2,3.4L92.8,2.8L94.6,2.4L96.8,1.4L98.4,0.6L99.8,0.2L101.9,-0.2L103.9,0.4L105.9,0.0L107.9,0.1L109.9,-0.1L112.0,0.2L114.0,-0.2L117.0,-0.1L119.0,0.4L121.0,0.6L123.0,0.4L126.1,0.8L128.1,1.3L131.1,1.6L134.1,2.0L137.2,2.8L140.2,3.0L142.2,2.8L145.2,2.8L145.2,-4.0L-10.1,-4.0Z"/><path d="M48.0,68.7L48.6,68.7L49.8,68.5L51.6,69.9L54.5,69.9L56.1,70.1L58.1,68.9L60.5,68.5L62.5,67.3L65.6,67.1L67.6,66.7L70.6,66.9L73.2,66.3L75.6,66.3L77.9,66.5L80.1,65.7L81.1,65.9L81.3,66.7L82.7,66.1L81.9,67.3L81.7,68.7L82.7,69.7L82.1,71.2L80.9,72.0L81.1,73.0L82.9,73.8L84.7,74.6L87.1,74.6L89.4,75.2L91.2,75.8L92.0,77.2L93.8,78.0L96.4,78.6L98.0,79.4L99.0,79.8L100.3,79.4L101.1,78.4L100.9,76.8L101.5,75.8L102.9,75.0L104.5,74.6L106.1,74.8L107.3,75.8L108.9,76.4L111.3,77.2L114.0,77.4L116.2,77.8L118.8,78.6L120.4,78.0L121.8,77.4L123.4,77.2L125.1,78.0L126.3,78.2L128.1,78.2L129.5,77.8L130.3,76.8L130.9,75.4L131.1,74.4L131.9,73.2L132.7,71.4L132.9,69.7L132.7,68.3L133.5,67.1L132.1,67.1L130.5,66.7L129.1,67.7L127.1,68.1L125.7,67.9L124.1,66.9L122.2,66.7L121.8,67.7L120.2,67.9L118.6,66.9L117.0,66.9L115.8,66.3L115.4,65.1L115.0,64.3L113.8,63.7L114.6,62.9L114.8,61.9L113.4,61.5L114.2,60.7L113.4,60.2L113.4,59.5L113.0,59.1L110.9,58.4L108.9,58.7L108.3,59.5L109.5,60.1L107.7,60.5L106.1,59.3L106.1,60.3L106.7,61.5L107.3,62.3L106.1,62.5L107.9,63.3L108.9,63.9L108.9,64.9L107.1,64.5L106.5,65.3L107.1,67.3L105.9,67.5L105.5,66.5L104.7,66.7L104.3,66.5L104.1,65.1L103.1,64.5L103.7,63.7L103.3,63.3L102.3,62.5L101.3,61.1L100.9,60.9L99.8,59.7L99.4,58.5L99.8,56.9L98.8,56.1L97.8,55.4L96.0,54.5L93.8,53.5L92.6,53.1L91.2,51.7L90.6,50.0L89.4,49.6L88.6,50.7L87.9,50.0L88.1,48.8L86.7,48.8L85.3,49.6L85.5,51.1L85.9,52.3L87.9,53.3L89.2,55.3L91.0,56.5L92.8,56.5L92.6,57.1L94.6,58.1L96.8,59.1L97.8,60.1L96.8,60.5L95.2,59.5L94.0,60.5L95.0,61.5L94.0,62.7L93.0,64.3L92.2,64.4L92.0,63.7L92.8,62.9L92.4,61.1L91.8,60.1L90.6,59.7L89.8,59.1L88.8,58.7L88.1,57.9L85.9,57.3L84.3,56.1L82.9,55.3L81.7,54.3L81.3,52.7L79.7,51.7L78.3,51.5L77.1,52.5L75.6,52.7L74.0,53.9L72.6,54.1L70.6,53.6L69.0,53.3L67.2,53.7L66.6,55.3L67.0,56.5L65.0,57.7L62.5,58.2L61.9,58.9L60.5,60.5L59.9,61.5L60.7,62.7L59.5,63.7L59.1,65.1L57.7,65.3L56.3,66.7L54.7,66.9L51.6,66.9L50.4,67.4L49.7,68.1L49.2,68.3L48.0,68.1Z"/><path d="M117.0,57.1L119.2,57.9L122.0,58.1L124.1,57.7L126.1,56.7L128.1,56.3L131.1,56.1L132.1,56.9L134.1,57.7L136.2,58.1L138.2,58.4L140.6,58.3L142.2,57.7L144.2,57.3L144.6,56.3L144.2,54.9L141.8,54.1L140.2,53.1L138.2,51.7L136.2,50.9L135.1,50.0L134.3,49.6L133.3,50.1L131.9,50.3L130.1,51.3L128.1,51.3L127.9,50.3L126.1,49.5L128.3,48.4L126.5,48.0L124.5,47.6L122.6,47.2L121.4,48.4L120.4,49.6L120.2,50.7L118.6,51.4L118.2,52.9L117.0,53.7L116.8,55.1L116.8,56.3Z"/><path d="M131.3,49.2L132.1,49.6L134.3,49.6L136.2,48.8L137.8,47.8L140.0,46.0L139.2,45.4L137.6,45.6L135.8,45.8L133.1,46.4L131.1,47.0L130.5,48.2Z"/><path d="M114.4,59.5L116.0,59.7L119.0,59.5L119.0,58.5L117.0,58.3L115.4,58.5Z"/><path d="M124.9,5.4L126.7,6.0L130.1,6.8L134.1,7.4L138.2,7.7L141.2,7.4L143.2,6.8L145.2,6.8L145.2,12.1L142.2,11.1L140.6,10.3L138.8,9.6L136.8,10.9L135.6,12.1L133.5,12.3L131.5,11.5L130.5,10.3L130.3,8.8L128.7,7.6L126.3,6.8Z"/></g><g fill="none" stroke="#000" stroke-width="1.8" stroke-linejoin="round" stroke-linecap="round"><path d="M16.1,7.2L14.5,8.0L12.1,8.8L11.1,9.0L12.5,10.5L14.9,11.7"/><path d="M71.8,22.9L71.8,21.5L71.0,20.9L71.0,19.3L70.6,18.1L70.8,16.5L71.4,15.7L73.2,14.9L75.0,14.3L76.7,13.5L78.3,12.7L79.9,11.7L81.1,10.3L82.7,8.8L84.5,7.4L86.1,6.0L87.5,4.8L89.2,4.0L91.2,3.4L92.8,2.8L94.6,2.4L96.8,1.4L98.4,0.6L99.8,0.2L101.9,-0.2"/><path d="M50.4,22.9L49.8,23.7L49.0,24.9L49.2,26.1L48.4,27.3L49.4,28.5"/><path d="M47.8,23.1L48.4,23.5L46.0,25.5L45.4,24.9L46.4,23.7L47.8,23.1"/><path d="M108.9,63.9L108.9,64.9L107.1,64.5L106.5,65.3L107.1,67.3L105.9,67.5L105.5,66.5L104.7,66.7"/><path d="M108.3,59.5L109.5,60.1L107.7,60.5L106.1,59.3"/><path d="M91.2,51.7L90.6,50.0L89.4,49.6L88.6,50.7"/><path d="M102.9,26.5L104.1,25.3L106.1,24.6L107.5,25.9L109.1,26.1L109.7,24.3L108.9,23.5L107.9,22.7L107.9,21.7L109.9,21.1"/><path d="M94.2,22.9L94.0,24.3L93.6,26.1"/><path d="M96.0,22.1L97.4,21.5L98.6,20.7L97.2,19.5"/></g><g stroke="#000" stroke-width="1.0" stroke-linejoin="round"><path d="M11.1,9.0L12.5,10.5L14.9,12.1L18.2,12.5L23.2,13.3L27.2,12.5L31.3,11.3L33.1,9.8L31.3,7.4L28.2,7.0L24.2,7.8L20.2,7.8L16.1,7.2L14.5,8.0L12.1,8.8Z" fill="#e8e8e4"/><path d="M-20.2,-4.0L-20.2,9.0L-15.3,8.8L-9.1,7.0L-4.0,4.0L4.0,2.8L9.1,1.6L13.1,0.0L16.1,-1.0L16.1,-4.0Z" fill="#f4f4f4"/><path d="M49.0,40.1L52.0,39.4L54.5,38.8L58.5,38.7L63.1,38.0L63.3,37.4L61.9,37.0L63.9,35.0L63.7,34.4L61.1,34.4L60.7,33.2L59.9,32.2L58.3,31.0L57.3,29.1L56.3,28.1L55.1,27.3L56.5,25.9L56.9,24.9L54.1,24.7L52.4,24.9L54.3,22.9L50.4,22.9L49.8,23.7L49.0,24.9L49.2,26.1L48.4,27.3L49.4,28.5L50.4,29.7L50.2,30.6L51.4,30.8L53.3,30.4L53.9,31.4L54.3,32.4L54.7,33.6L51.2,33.6L52.0,34.6L52.2,35.6L50.0,36.6L52.0,37.0L54.1,37.4L52.0,38.0L50.4,39.2Z" fill="#dcdeb0"/><path d="M48.0,32.4L48.4,33.8L47.6,35.8L45.4,36.2L43.4,37.0L40.7,37.2L39.7,36.0L41.4,35.0L40.5,33.8L40.1,32.4L42.2,31.6L43.4,31.2L43.8,29.9L46.0,29.5L48.2,29.7L49.2,31.0Z" fill="#dcdeb0"/><path d="M45.8,15.5L47.0,15.7L47.2,16.5L46.4,16.9L45.6,16.1Z" fill="#e2e2b6"/><path d="M57.7,18.5L58.7,18.7L58.1,20.1L57.7,20.3L57.3,19.5Z" fill="#e2e2b6"/><path d="M53.9,21.7L55.5,21.5L54.9,22.5L53.9,22.3Z" fill="#e2e2b6"/><path d="M47.8,23.1L48.4,23.5L46.0,25.5L45.4,24.9L46.4,23.7Z" fill="#e2e2b6"/><path d="M79.5,54.3L79.8,55.1L79.5,56.5L79.1,57.5L78.3,57.1L77.9,56.1L78.1,55.1Z" fill="#e2e2b6"/><path d="M79.9,58.1L80.3,59.5L79.9,61.3L78.7,62.1L77.5,62.4L77.5,60.7L77.1,59.1L77.5,58.3L78.9,57.9Z" fill="#e2e2b6"/><path d="M85.5,64.1L87.3,63.9L89.8,64.2L92.0,63.8L91.0,65.7L91.0,66.9L89.4,66.7L87.1,65.5L85.7,65.1Z" fill="#e2e2b6"/><path d="M107.9,69.1L109.3,69.3L110.9,69.5L113.6,69.7L112.4,70.3L110.3,70.3L108.1,69.9Z" fill="#e2e2b6"/><path d="M125.7,70.3L126.9,69.5L129.1,69.4L130.3,68.9L128.9,70.3L127.7,71.2L126.1,71.0Z" fill="#e2e2b6"/><path d="M65.4,61.2L66.8,60.4L67.5,60.9L67.0,61.6L66.0,61.4Z" fill="#e2e2b6"/><path d="M68.2,60.2L69.2,60.4L68.8,60.6Z" fill="#e2e2b6"/><path d="M62.9,62.3L63.7,62.1L63.5,62.6Z" fill="#e2e2b6"/><path d="M82.7,29.3L83.1,28.3L84.3,28.1L85.9,28.0L85.7,28.9L85.1,29.7L83.5,29.7Z" fill="#e2e2b6"/><path d="M80.3,29.1L81.7,29.1L82.1,29.9L80.9,30.0Z" fill="#e2e2b6"/><path d="M82.9,30.5L84.9,30.3L84.5,31.0L83.1,30.9Z" fill="#e2e2b6"/><path d="M90.2,29.6L91.1,29.8L90.4,30.1Z" fill="#e2e2b6"/><path d="M97.0,25.1L98.2,24.2L99.0,24.5L98.4,25.7L97.4,26.3Z" fill="#e2e2b6"/><path d="M93.6,27.7L94.6,25.5L95.0,25.5L94.0,27.7Z" fill="#e2e2b6"/><path d="M104.5,23.5L105.5,22.9L107.5,23.1L106.1,24.1L104.9,24.2Z" fill="#e2e2b6"/><path d="M105.5,22.2L106.9,22.1L106.5,22.7L105.5,22.7Z" fill="#e2e2b6"/><path d="M100.1,19.3L101.5,19.4L101.1,20.1L100.3,19.9Z" fill="#e2e2b6"/><path d="M106.5,62.3L108.1,62.7L110.1,64.1L109.5,64.3L107.5,63.3Z" fill="#e2e2b6"/><path d="M116.4,67.9L117.4,67.4L117.0,68.5Z" fill="#e2e2b6"/><path d="M112.8,61.7L114.2,61.7L113.6,62.3Z" fill="#e2e2b6"/><path d="M25.6,74.8L26.8,74.9L26.4,75.1Z" fill="#e2e2b6"/><path d="M2.4,62.9L4.0,63.1L3.4,63.4Z" fill="#e2e2b6"/><path d="M8.1,64.5L9.7,64.6L8.9,64.9Z" fill="#e2e2b6"/><path d="M5.2,62.7L6.1,62.8L5.6,63.0Z" fill="#e2e2b6"/><path d="M111.5,65.9L112.2,66.0L112.0,66.4Z" fill="#e2e2b6"/><path d="M110.3,64.4L110.9,64.6L110.5,64.8Z" fill="#e2e2b6"/><path d="M109.6,66.7L110.1,66.8L109.7,67.0Z" fill="#e2e2b6"/><path d="M114.8,66.5L115.7,66.5L115.2,66.8Z" fill="#e2e2b6"/><path d="M112.8,63.2L113.4,63.3L113.0,63.9Z" fill="#e2e2b6"/><path d="M114.2,64.7L115.0,64.8L114.6,65.0Z" fill="#e2e2b6"/><path d="M111.1,60.3L111.9,60.4L111.5,60.7Z" fill="#e2e2b6"/><path d="M110.1,58.7L110.5,58.9L110.2,59.1Z" fill="#e2e2b6"/><path d="M101.7,63.3L102.5,63.7L101.9,64.1Z" fill="#e2e2b6"/><path d="M100.3,60.7L101.1,61.1L100.7,61.5Z" fill="#e2e2b6"/><path d="M115.2,68.7L115.4,69.5L115.1,69.3Z" fill="#e2e2b6"/><path d="M89.2,68.1L90.0,68.5L89.6,68.7Z" fill="#e2e2b6"/></g><g fill="none" stroke="#1a1a1a" stroke-width="0.6" stroke-linejoin="round"><path d="M42.6,56.5L44.0,56.1L47.2,56.5L46.6,58.3L46.4,60.9L45.4,61.1L46.4,62.5L45.6,65.9"/><path d="M56.9,53.5L59.5,54.7L61.9,54.7L63.9,55.3L67.0,55.5"/><path d="M65.6,38.0L66.6,38.6L69.0,39.6L70.2,40.2L72.2,41.2L73.4,41.4L77.1,42.2L75.8,45.0L74.6,45.4L72.8,47.0L74.2,48.2L74.6,49.6L73.8,51.1L75.6,52.7"/><path d="M67.4,37.4L69.2,37.4L70.6,37.2L72.2,37.8L72.6,38.6L73.0,37.4L74.2,36.4L74.6,35.6L74.8,33.6"/><path d="M72.6,38.6L73.2,39.6L72.8,40.0L72.2,41.2"/><path d="M77.9,30.4L79.7,30.5L80.5,30.6"/><path d="M89.4,32.4L89.6,33.6L90.0,35.0L90.2,36.2L90.8,38.0L89.4,38.2L85.7,39.4L84.9,39.6L85.7,40.6L86.7,41.6L88.4,42.6L87.5,43.6L86.3,44.8L85.1,45.0L81.7,45.2L79.9,45.2L77.7,44.8L75.8,45.0"/><path d="M74.2,48.2L76.4,48.4L77.5,47.4L78.7,48.4L79.7,47.2L81.5,47.0L81.5,46.4L79.9,45.2"/><path d="M81.5,46.4L85.1,46.2L88.1,47.2L92.8,46.8L93.8,45.2L95.0,44.2L94.6,43.0L90.8,42.2L88.4,42.6"/><path d="M88.1,47.2L87.9,49.0"/><path d="M87.9,49.2L91.2,49.2L92.2,48.0L93.8,47.2L96.4,48.6L98.4,48.4L101.5,48.0"/><path d="M92.4,49.8L95.8,50.0L98.8,50.5L99.8,52.3L98.8,53.7L97.8,55.3"/><path d="M92.4,49.8L92.8,51.9L94.8,53.3L96.0,54.5"/><path d="M101.5,48.0L103.7,50.3L105.9,51.1L106.3,51.9L105.7,53.1L106.9,55.5L105.7,55.7"/><path d="M99.8,52.3L99.6,53.5L100.9,54.7L99.4,55.9"/><path d="M95.0,44.2L98.4,44.6L101.7,43.2L105.3,43.4L106.7,44.2L103.3,47.6L101.5,48.0"/><path d="M90.8,38.0L94.0,39.8L96.8,40.0L98.6,41.2L96.4,42.4L94.6,43.0"/><path d="M98.6,41.2L100.9,41.8L106.1,42.0L108.9,39.4L108.1,37.0L108.7,34.2L107.9,32.4L106.3,31.6L100.1,31.3"/><path d="M106.3,31.6L106.5,30.4L103.5,29.7"/><path d="M102.9,28.0L105.9,27.3L110.9,27.7L114.2,28.7L112.6,31.6L107.9,32.4"/><path d="M104.5,24.9L109.5,24.3L112.0,24.3L115.8,25.1L117.4,27.7L114.2,28.7"/><path d="M115.8,25.1L116.4,24.1L116.0,22.3L117.0,21.1"/><path d="M116.6,19.1L119.6,17.5L124.1,14.3L121.0,12.7L121.0,11.1L120.0,9.0L121.0,7.0L119.0,6.0L118.4,4.0L118.0,2.0L119.0,1.0L118.8,0.0"/><path d="M109.3,8.4L108.1,7.0L108.7,5.0L107.1,3.6L102.9,2.0L105.5,3.0L108.9,2.8L112.4,2.0L115.0,0.2L118.0,2.0"/><path d="M83.5,22.1L84.7,20.3L85.7,18.1L84.9,16.5L85.1,14.1L86.7,12.1L89.2,9.8L89.8,7.8L92.2,6.0L93.8,5.0L96.6,3.4L97.6,2.8L101.3,2.0L102.9,2.0"/><path d="M108.1,37.0L112.0,36.4L117.0,37.0L122.0,37.6L124.7,36.0L124.1,34.2L125.9,33.4L123.0,32.2L122.6,29.1L117.4,27.7"/><path d="M105.3,43.4L106.1,42.0"/><path d="M106.7,44.2L110.7,44.6L114.2,43.8L116.6,43.4L119.4,44.4L121.0,47.2L120.4,49.2"/><path d="M114.2,43.8L117.4,47.6L117.4,49.2L120.4,49.6"/><path d="M124.7,36.0L129.9,36.8L131.9,39.0L137.2,40.4L141.2,41.0L141.2,43.6L137.6,46.0"/><path d="M106.3,51.9L106.9,52.5L109.9,52.9L113.0,52.5L115.0,52.1L118.2,52.8"/><path d="M106.7,57.7L108.9,57.3L111.5,57.9L113.6,56.9L115.0,56.1L117.0,56.3"/><path d="M105.7,55.7L106.7,57.7L102.7,58.5"/><path d="M100.5,55.3L100.9,55.1L101.9,56.3L102.1,58.1L102.9,58.7L102.3,60.1L100.9,60.9"/><path d="M113.6,56.9L113.0,58.7"/><path d="M144.2,57.3L146.8,57.1"/><path d="M133.3,68.5L134.5,66.7L137.2,66.7L141.2,66.5L145.2,66.1"/><path d="M132.9,71.2L134.1,71.2L133.1,72.8L132.7,73.8L131.3,74.2"/><path d="M132.7,73.8L132.7,75.0L134.7,75.8L138.8,73.6L143.2,71.6L143.8,67.1L145.8,65.9"/><path d="M132.3,75.0L132.1,77.4L131.1,81.4"/><path d="M129.5,77.8L130.9,81.4"/><path d="M135.1,77.4L139.2,76.4L139.8,75.8L138.8,73.6"/><path d="M135.1,77.4L137.2,79.4L136.2,80.4L134.1,81.4"/><path d="M111.1,77.2L110.7,80.4L110.7,84.4"/><path d="M83.7,74.0L81.3,77.0L79.7,80.0L80.3,84.4"/><path d="M77.9,66.5L77.1,69.3L77.5,71.4L75.6,72.8L78.7,76.2L79.7,80.0"/><path d="M56.1,70.1L56.9,72.4L57.1,74.4L58.1,76.2L55.3,76.2L53.1,77.2L53.3,78.6L49.4,81.4L43.0,83.0"/></g></g><linearGradient id="cbar"><stop offset="0" stop-color="#f00"/><stop offset="0.5" stop-color="#fff"/><stop offset="1" stop-color="#00f"/></linearGradient><path id="star" d="M0.00,-3.60 L1.18,-1.32 L3.71,-0.91 L1.90,0.92 L2.29,3.46 L0.00,2.30 L-2.29,3.46 L-1.90,0.92 L-3.71,-0.91 L-1.18,-1.32Z" fill="#0b7a0b"/><path id="dia" d="M0,-4.6 L4.6,0 L0,4.6 L-4.6,0Z" fill="#00bfff"/><path id="tri" d="M-3.3,-3.6 L3.9,0 L-3.3,3.6Z" fill="#000"/></defs><rect x="0.5" y="0.5" width="344.1" height="327.9" fill="none" stroke="#222" stroke-width="1"/><rect x="349.5" y="0.5" width="334.9" height="136.8" fill="none" stroke="#222" stroke-width="1"/><text x="28.6" y="12" font-size="8" text-anchor="start" >(a) Slope from 2001-2010</text><use href="#naMap" transform="translate(30.0,17.0)"/><use href="#euMap" transform="translate(177.6,17.0)"/><rect x="30.0" y="17.0" width="141.2" height="80.4" fill="none" stroke="#444" stroke-width="0.9"/><rect x="177.6" y="17.0" width="141.2" height="80.4" fill="none" stroke="#444" stroke-width="0.9"/><text x="28.0" y="29.9" font-size="8" text-anchor="end" >55°N</text><text x="28.0" y="49.2" font-size="8" text-anchor="end" >45°N</text><text x="28.0" y="68.7" font-size="8" text-anchor="end" >35°N</text><text x="28.0" y="87.9" font-size="8" text-anchor="end" >25°N</text><text x="322.2" y="27.8" font-size="8" text-anchor="start" >65°N</text><text x="322.2" y="48.5" font-size="8" text-anchor="start" >55°N</text><text x="322.2" y="69.6" font-size="8" text-anchor="start" >45°N</text><text x="322.2" y="90.5" font-size="8" text-anchor="start" >35°N</text><line x1="171.2" y1="28.0" x2="178.0" y2="22.5" stroke="#000" stroke-width="1.3"/><line x1="171.2" y1="60.0" x2="178.0" y2="54.5" stroke="#000" stroke-width="1.3"/><line x1="171.2" y1="90.0" x2="178.0" y2="84.5" stroke="#000" stroke-width="1.3"/><use href="#naMap" transform="translate(30.0,109.1)"/><use href="#euMap" transform="translate(177.6,109.1)"/><rect x="30.0" y="109.1" width="141.2" height="80.4" fill="none" stroke="#444" stroke-width="0.9"/><rect x="177.6" y="109.1" width="141.2" height="80.4" fill="none" stroke="#444" stroke-width="0.9"/><text x="27.6" y="121.7" font-size="8" text-anchor="end" >55°N</text><text x="27.6" y="141.0" font-size="8" text-anchor="end" >45°N</text><text x="27.6" y="160.5" font-size="8" text-anchor="end" >35°N</text><text x="27.6" y="179.7" font-size="8" text-anchor="end" >25°N</text><text x="322.2" y="120.2" font-size="8" text-anchor="start" >65°N</text><text x="322.2" y="140.9" font-size="8" text-anchor="start" >55°N</text><text x="322.2" y="162.0" font-size="8" text-anchor="start" >45°N</text><text x="322.2" y="182.9" font-size="8" text-anchor="start" >35°N</text><line x1="171.2" y1="120.1" x2="178.0" y2="114.6" stroke="#000" stroke-width="1.3"/><line x1="171.2" y1="152.1" x2="178.0" y2="146.6" stroke="#000" stroke-width="1.3"/><line x1="171.2" y1="182.1" x2="178.0" y2="176.6" stroke="#000" stroke-width="1.3"/><use href="#naMap" transform="translate(28.9,198.4)"/><use href="#euMap" transform="translate(176.7,198.4)"/><rect x="28.9" y="198.4" width="141.2" height="80.4" fill="none" stroke="#444" stroke-width="0.9"/><rect x="176.7" y="198.4" width="141.2" height="80.4" fill="none" stroke="#444" stroke-width="0.9"/><text x="26.0" y="211.9" font-size="8" text-anchor="end" >55°N</text><text x="26.0" y="231.2" font-size="8" text-anchor="end" >45°N</text><text x="26.0" y="250.7" font-size="8" text-anchor="end" >35°N</text><text x="26.0" y="269.9" font-size="8" text-anchor="end" >25°N</text><text x="321.6" y="210.1" font-size="8" text-anchor="start" >65°N</text><text x="321.6" y="230.8" font-size="8" text-anchor="start" >55°N</text><text x="321.6" y="251.9" font-size="8" text-anchor="start" >45°N</text><text x="321.6" y="272.8" font-size="8" text-anchor="start" >35°N</text><line x1="170.1" y1="210.3" x2="176.9" y2="204.8" stroke="#000" stroke-width="1.3"/><line x1="170.1" y1="242.3" x2="176.9" y2="236.8" stroke="#000" stroke-width="1.3"/><line x1="170.1" y1="272.3" x2="176.9" y2="266.8" stroke="#000" stroke-width="1.3"/><circle cx="140.7" cy="55.9" r="2.2" fill="#d4d4ff" stroke="#444" stroke-width="0.45"/><circle cx="138.1" cy="56.6" r="2.2" fill="#ffd4dc" stroke="#444" stroke-width="0.45"/><circle cx="135.8" cy="58.2" r="2.2" fill="#ffb4bc" stroke="#444" stroke-width="0.45"/><circle cx="135.2" cy="60.4" r="2.2" fill="#ffc4c4" stroke="#444" stroke-width="0.45"/><circle cx="134.9" cy="62.3" r="2.2" fill="#ffbcbc" stroke="#444" stroke-width="0.45"/><circle cx="135.6" cy="64.6" r="2.2" fill="#ff4848" stroke="#444" stroke-width="0.45"/><circle cx="135.6" cy="65.6" r="2.2" fill="#ff2c2c" stroke="#444" stroke-width="0.45"/><circle cx="137.0" cy="66.3" r="2.2" fill="#ee2020" stroke="#444" stroke-width="0.45"/><circle cx="114.1" cy="72.9" r="2.2" fill="#ff2a2a" stroke="#444" stroke-width="0.45"/><circle cx="118.3" cy="75.3" r="2.2" fill="#ffffff" stroke="#444" stroke-width="0.45"/><circle cx="121.5" cy="76.2" r="2.2" fill="#ffb0b0" stroke="#444" stroke-width="0.45"/><circle cx="281.4" cy="25.2" r="2.2" fill="#ffbcbc" stroke="#444" stroke-width="0.45"/><circle cx="272.5" cy="30.4" r="2.2" fill="#ffbcbc" stroke="#444" stroke-width="0.45"/><circle cx="235.9" cy="49.3" r="2.2" fill="#f0ecff" stroke="#444" stroke-width="0.45"/><circle cx="237.2" cy="53.8" r="2.2" fill="#ffb0b0" stroke="#444" stroke-width="0.45"/><circle cx="249.4" cy="52.8" r="2.2" fill="#ffc4c4" stroke="#444" stroke-width="0.45"/><circle cx="256.4" cy="51.3" r="2.2" fill="#ffb8b8" stroke="#444" stroke-width="0.45"/><circle cx="260.4" cy="51.0" r="2.2" fill="#e4e0ff" stroke="#444" stroke-width="0.45"/><circle cx="276.2" cy="49.1" r="2.2" fill="#ccccff" stroke="#444" stroke-width="0.45"/><circle cx="283.7" cy="46.6" r="2.2" fill="#a8a8ff" stroke="#444" stroke-width="0.45"/><circle cx="236.4" cy="62.4" r="2.2" fill="#ffb0b0" stroke="#444" stroke-width="0.45"/><circle cx="238.4" cy="67.4" r="2.2" fill="#eeeeff" stroke="#444" stroke-width="0.45"/><circle cx="221.0" cy="78.6" r="2.2" fill="#ff7c7c" stroke="#444" stroke-width="0.45"/><circle cx="222.0" cy="76.8" r="2.2" fill="#ffa8a8" stroke="#444" stroke-width="0.45"/><circle cx="140.7" cy="148.0" r="2.2" fill="#eeeeff" stroke="#444" stroke-width="0.45"/><circle cx="138.1" cy="148.7" r="2.2" fill="#ffd0d0" stroke="#444" stroke-width="0.45"/><circle cx="135.8" cy="150.3" r="2.2" fill="#ffa8a8" stroke="#444" stroke-width="0.45"/><circle cx="135.2" cy="152.5" r="2.2" fill="#ffb0b0" stroke="#444" stroke-width="0.45"/><circle cx="134.9" cy="154.4" r="2.2" fill="#ffa4a4" stroke="#444" stroke-width="0.45"/><circle cx="135.6" cy="156.7" r="2.2" fill="#ff9494" stroke="#444" stroke-width="0.45"/><circle cx="135.6" cy="157.7" r="2.2" fill="#ff8c8c" stroke="#444" stroke-width="0.45"/><circle cx="137.0" cy="158.4" r="2.2" fill="#ff9c9c" stroke="#444" stroke-width="0.45"/><circle cx="114.1" cy="165.6" r="2.2" fill="#ff5c5c" stroke="#444" stroke-width="0.45"/><circle cx="118.3" cy="167.9" r="2.2" fill="#ffb0b0" stroke="#444" stroke-width="0.45"/><circle cx="121.5" cy="168.4" r="2.2" fill="#ffa0a0" stroke="#444" stroke-width="0.45"/><circle cx="281.7" cy="117.2" r="2.2" fill="#ffecec" stroke="#444" stroke-width="0.45"/><circle cx="272.7" cy="122.5" r="2.2" fill="#ffffff" stroke="#444" stroke-width="0.45"/><circle cx="235.1" cy="141.4" r="2.2" fill="#ffffff" stroke="#444" stroke-width="0.45"/><circle cx="237.2" cy="145.5" r="2.2" fill="#ffc0c0" stroke="#444" stroke-width="0.45"/><circle cx="249.1" cy="144.4" r="2.2" fill="#ffffff" stroke="#444" stroke-width="0.45"/><circle cx="256.2" cy="143.5" r="2.2" fill="#ffc8c8" stroke="#444" stroke-width="0.45"/><circle cx="260.2" cy="142.6" r="2.2" fill="#ffffff" stroke="#444" stroke-width="0.45"/><circle cx="276.0" cy="140.8" r="2.2" fill="#dcdcff" stroke="#444" stroke-width="0.45"/><circle cx="283.5" cy="138.3" r="2.2" fill="#d0d0ff" stroke="#444" stroke-width="0.45"/><circle cx="236.9" cy="153.9" r="2.2" fill="#ffdcdc" stroke="#444" stroke-width="0.45"/><circle cx="238.3" cy="158.7" r="2.2" fill="#ffffff" stroke="#444" stroke-width="0.45"/><circle cx="221.6" cy="169.1" r="2.2" fill="#ffc8c8" stroke="#444" stroke-width="0.45"/><circle cx="139.9" cy="237.2" r="2.2" fill="#e0e0ff" stroke="#444" stroke-width="0.45"/><circle cx="137.3" cy="237.9" r="2.2" fill="#e8e8ff" stroke="#444" stroke-width="0.45"/><circle cx="135.0" cy="239.5" r="2.2" fill="#f0f0ff" stroke="#444" stroke-width="0.45"/><circle cx="134.4" cy="241.7" r="2.2" fill="#f4f4ff" stroke="#444" stroke-width="0.45"/><circle cx="134.1" cy="243.6" r="2.2" fill="#ffffff" stroke="#444" stroke-width="0.45"/><circle cx="134.8" cy="245.9" r="2.2" fill="#eeeeff" stroke="#444" stroke-width="0.45"/><circle cx="134.8" cy="246.9" r="2.2" fill="#ffffff" stroke="#444" stroke-width="0.45"/><circle cx="136.2" cy="247.6" r="2.2" fill="#f0f0ff" stroke="#444" stroke-width="0.45"/><circle cx="112.8" cy="255.1" r="2.2" fill="#ff4c4c" stroke="#444" stroke-width="0.45"/><circle cx="117.3" cy="257.2" r="2.2" fill="#ffbcbc" stroke="#444" stroke-width="0.45"/><circle cx="120.2" cy="258.1" r="2.2" fill="#ffa8a8" stroke="#444" stroke-width="0.45"/><circle cx="279.5" cy="207.5" r="2.2" fill="#d0d0ff" stroke="#444" stroke-width="0.45"/><circle cx="272.0" cy="212.5" r="2.2" fill="#ffd0d0" stroke="#444" stroke-width="0.45"/><circle cx="234.5" cy="231.0" r="2.2" fill="#f4f0f8" stroke="#444" stroke-width="0.45"/><circle cx="236.5" cy="235.5" r="2.2" fill="#ffb0b0" stroke="#444" stroke-width="0.45"/><circle cx="248.0" cy="234.5" r="2.2" fill="#ffb0b0" stroke="#444" stroke-width="0.45"/><circle cx="256.0" cy="233.0" r="2.2" fill="#ffb8b8" stroke="#444" stroke-width="0.45"/><circle cx="259.5" cy="232.5" r="2.2" fill="#ffffff" stroke="#444" stroke-width="0.45"/><circle cx="275.0" cy="230.5" r="2.2" fill="#b0b0f4" stroke="#444" stroke-width="0.45"/><circle cx="282.5" cy="228.5" r="2.2" fill="#a0a0ff" stroke="#444" stroke-width="0.45"/><circle cx="235.5" cy="243.5" r="2.2" fill="#ffa8a8" stroke="#444" stroke-width="0.45"/><circle cx="237.5" cy="249.5" r="2.2" fill="#ffffff" stroke="#444" stroke-width="0.45"/><circle cx="220.5" cy="259.0" r="2.2" fill="#ffb0b0" stroke="#444" stroke-width="0.45"/><rect x="31.6" y="83.5" width="86.2" height="10.9" fill="#fff"/><text x="74.7" y="92.6" font-size="8" text-anchor="middle" >Observation 2001-2010</text><rect x="32.1" y="175.2" width="84.2" height="11.4" fill="#fff"/><text x="74.2" y="183.8" font-size="8" text-anchor="middle" >δHBV2 2001-2010</text><rect x="30.6" y="264.0" width="84.7" height="11.4" fill="#fff"/><text x="74.3" y="272.6" font-size="8" text-anchor="middle" >GWM0 2001-2010</text><text x="51.5" y="290.9" font-size="8" text-anchor="middle" >120°W</text><text x="90.2" y="290.9" font-size="8" text-anchor="middle" >100°W</text><text x="128.7" y="290.9" font-size="8" text-anchor="middle" >80°W</text><text x="213.4" y="290.9" font-size="8" text-anchor="middle" >10°W</text><text x="255.5" y="290.9" font-size="8" text-anchor="middle" >10°E</text><text x="296.5" y="290.9" font-size="8" text-anchor="middle" >30°E</text><rect x="55.2" y="302.2" width="226.0" height="9.5" fill="url(#cbar)" stroke="#222" stroke-width="0.7"/><line x1="55.2" y1="311.7" x2="55.2" y2="314.1" stroke="#222" stroke-width="0.7"/><text x="53.2" y="322.8" font-size="8" text-anchor="middle" >-8</text><line x1="83.5" y1="311.7" x2="83.5" y2="314.1" stroke="#222" stroke-width="0.7"/><text x="81.5" y="322.8" font-size="8" text-anchor="middle" >-6</text><line x1="111.7" y1="311.7" x2="111.7" y2="314.1" stroke="#222" stroke-width="0.7"/><text x="109.7" y="322.8" font-size="8" text-anchor="middle" >-4</text><line x1="139.9" y1="311.7" x2="139.9" y2="314.1" stroke="#222" stroke-width="0.7"/><text x="137.9" y="322.8" font-size="8" text-anchor="middle" >-2</text><line x1="168.2" y1="311.7" x2="168.2" y2="314.1" stroke="#222" stroke-width="0.7"/><text x="167.8" y="322.8" font-size="8" text-anchor="middle" >0</text><line x1="196.4" y1="311.7" x2="196.4" y2="314.1" stroke="#222" stroke-width="0.7"/><text x="196.0" y="322.8" font-size="8" text-anchor="middle" >2</text><line x1="224.7" y1="311.7" x2="224.7" y2="314.1" stroke="#222" stroke-width="0.7"/><text x="224.3" y="322.8" font-size="8" text-anchor="middle" >4</text><line x1="252.9" y1="311.7" x2="252.9" y2="314.1" stroke="#222" stroke-width="0.7"/><text x="252.5" y="322.8" font-size="8" text-anchor="middle" >6</text><line x1="281.2" y1="311.7" x2="281.2" y2="314.1" stroke="#222" stroke-width="0.7"/><text x="280.8" y="322.8" font-size="8" text-anchor="middle" >8</text><text x="287.5" y="309.8" font-size="8" text-anchor="start" >(%/yr)</text><text x="365.0" y="12" font-size="8" text-anchor="start" >(b) Slope from 2001-2020</text><use href="#naMap" transform="translate(375.2,16.3)"/><use href="#euMap" transform="translate(523.3,16.3)"/><rect x="375.2" y="16.3" width="141.2" height="80.4" fill="none" stroke="#444" stroke-width="0.9"/><rect x="523.3" y="16.3" width="141.2" height="80.4" fill="none" stroke="#444" stroke-width="0.9"/><text x="373.2" y="29.2" font-size="8" text-anchor="end" >55°N</text><text x="373.2" y="48.5" font-size="8" text-anchor="end" >45°N</text><text x="373.2" y="68.0" font-size="8" text-anchor="end" >35°N</text><text x="373.2" y="87.2" font-size="8" text-anchor="end" >25°N</text><text x="665.7" y="26.0" font-size="8" text-anchor="start" >65°N</text><text x="665.7" y="46.7" font-size="8" text-anchor="start" >55°N</text><text x="665.7" y="67.8" font-size="8" text-anchor="start" >45°N</text><text x="665.7" y="88.7" font-size="8" text-anchor="start" >35°N</text><line x1="516.4" y1="27.3" x2="523.2" y2="21.8" stroke="#000" stroke-width="1.3"/><line x1="516.4" y1="59.3" x2="523.2" y2="53.8" stroke="#000" stroke-width="1.3"/><line x1="516.4" y1="89.3" x2="523.2" y2="83.8" stroke="#000" stroke-width="1.3"/><circle cx="387.1" cy="53.5" r="2.2" fill="#ffc0c0" stroke="#444" stroke-width="0.45"/><circle cx="388.3" cy="55.9" r="2.2" fill="#ffc8c8" stroke="#444" stroke-width="0.45"/><circle cx="390.7" cy="62.0" r="2.2" fill="#ffbcbc" stroke="#444" stroke-width="0.45"/><circle cx="392.4" cy="64.4" r="2.2" fill="#ffd0d0" stroke="#444" stroke-width="0.45"/><circle cx="394.4" cy="66.8" r="2.2" fill="#ffc0c0" stroke="#444" stroke-width="0.45"/><circle cx="498.6" cy="46.0" r="2.2" fill="#c8c8ff" stroke="#444" stroke-width="0.45"/><circle cx="486.3" cy="55.4" r="2.2" fill="#f4e4ec" stroke="#444" stroke-width="0.45"/><circle cx="484.6" cy="56.3" r="2.2" fill="#ffdada" stroke="#444" stroke-width="0.45"/><circle cx="481.7" cy="57.9" r="2.2" fill="#c4c4f4" stroke="#444" stroke-width="0.45"/><circle cx="480.5" cy="60.9" r="2.2" fill="#8888ff" stroke="#444" stroke-width="0.45"/><circle cx="481.3" cy="65.0" r="2.2" fill="#5050ff" stroke="#444" stroke-width="0.45"/><circle cx="477.5" cy="68.4" r="2.2" fill="#0000ff" stroke="#444" stroke-width="0.45"/><circle cx="478.4" cy="69.6" r="2.2" fill="#1010ff" stroke="#444" stroke-width="0.45"/><circle cx="474.2" cy="70.5" r="2.2" fill="#7070ff" stroke="#444" stroke-width="0.45"/><circle cx="472.5" cy="72.1" r="2.2" fill="#a0a0ff" stroke="#444" stroke-width="0.45"/><circle cx="471.7" cy="73.8" r="2.2" fill="#c0c0ff" stroke="#444" stroke-width="0.45"/><circle cx="459.8" cy="71.6" r="2.2" fill="#ffd0d0" stroke="#444" stroke-width="0.45"/><circle cx="458.1" cy="74.6" r="2.2" fill="#c4c4ff" stroke="#444" stroke-width="0.45"/><circle cx="461.4" cy="75.6" r="2.2" fill="#ccccff" stroke="#444" stroke-width="0.45"/><circle cx="464.8" cy="75.6" r="2.2" fill="#d0d0ff" stroke="#444" stroke-width="0.45"/><circle cx="466.6" cy="75.4" r="2.2" fill="#ffffff" stroke="#444" stroke-width="0.45"/><circle cx="627.0" cy="23.7" r="2.2" fill="#ffffff" stroke="#444" stroke-width="0.45"/><circle cx="618.5" cy="29.3" r="2.2" fill="#ffffff" stroke="#444" stroke-width="0.45"/><circle cx="621.0" cy="47.4" r="2.2" fill="#ffffff" stroke="#444" stroke-width="0.45"/><circle cx="627.0" cy="44.5" r="2.2" fill="#ece4ff" stroke="#444" stroke-width="0.45"/><circle cx="629.9" cy="45.5" r="2.2" fill="#ffc0c0" stroke="#444" stroke-width="0.45"/><circle cx="581.0" cy="47.4" r="2.2" fill="#e4e4ff" stroke="#444" stroke-width="0.45"/><circle cx="583.0" cy="53.5" r="2.2" fill="#ffb0b0" stroke="#444" stroke-width="0.45"/><circle cx="593.2" cy="52.3" r="2.2" fill="#ff3c3c" stroke="#444" stroke-width="0.45"/><circle cx="596.5" cy="51.5" r="2.2" fill="#ff2c2c" stroke="#444" stroke-width="0.45"/><circle cx="599.5" cy="51.0" r="2.2" fill="#ff4848" stroke="#444" stroke-width="0.45"/><circle cx="603.0" cy="50.3" r="2.2" fill="#ff1c1c" stroke="#444" stroke-width="0.45"/><circle cx="606.3" cy="50.0" r="2.2" fill="#ff4040" stroke="#444" stroke-width="0.45"/><circle cx="609.5" cy="50.5" r="2.2" fill="#ff8888" stroke="#444" stroke-width="0.45"/><circle cx="589.5" cy="54.7" r="2.2" fill="#ffa8a8" stroke="#444" stroke-width="0.45"/><circle cx="586.4" cy="58.3" r="2.2" fill="#ffacac" stroke="#444" stroke-width="0.45"/><circle cx="575.0" cy="59.5" r="2.2" fill="#ffb8b8" stroke="#444" stroke-width="0.45"/><circle cx="581.0" cy="62.0" r="2.2" fill="#ffb0b0" stroke="#444" stroke-width="0.45"/><circle cx="582.3" cy="66.8" r="2.2" fill="#ffa8a8" stroke="#444" stroke-width="0.45"/><circle cx="566.5" cy="74.0" r="2.2" fill="#ffb0b0" stroke="#444" stroke-width="0.45"/><circle cx="567.3" cy="79.4" r="2.2" fill="#ffb8b8" stroke="#444" stroke-width="0.45"/><circle cx="571.4" cy="81.3" r="2.2" fill="#ffffff" stroke="#444" stroke-width="0.45"/><rect x="377.5" y="80.8" width="83.5" height="12.8" fill="#fff"/><text x="417.1" y="90.1" font-size="8" text-anchor="middle" >δHBV2 2001-2020</text><text x="396.5" y="107.0" font-size="8" text-anchor="middle" >120°W</text><text x="436.6" y="107.0" font-size="8" text-anchor="middle" >100°W</text><text x="476.3" y="107.0" font-size="8" text-anchor="middle" >80°W</text><text x="561.3" y="107.0" font-size="8" text-anchor="middle" >10°W</text><text x="601.8" y="107.0" font-size="8" text-anchor="middle" >10°E</text><text x="642.1" y="107.0" font-size="8" text-anchor="middle" >30°E</text><rect x="401.0" y="110.0" width="226.0" height="9.9" fill="url(#cbar)" stroke="#222" stroke-width="0.7"/><line x1="401.0" y1="119.9" x2="401.0" y2="122.3" stroke="#222" stroke-width="0.7"/><text x="398.4" y="131.6" font-size="8" text-anchor="middle" >-2.0</text><line x1="429.2" y1="119.9" x2="429.2" y2="122.3" stroke="#222" stroke-width="0.7"/><text x="426.6" y="131.6" font-size="8" text-anchor="middle" >-1.5</text><line x1="457.5" y1="119.9" x2="457.5" y2="122.3" stroke="#222" stroke-width="0.7"/><text x="454.9" y="131.6" font-size="8" text-anchor="middle" >-1.0</text><line x1="485.8" y1="119.9" x2="485.8" y2="122.3" stroke="#222" stroke-width="0.7"/><text x="483.1" y="131.6" font-size="8" text-anchor="middle" >-0.5</text><line x1="514.0" y1="119.9" x2="514.0" y2="122.3" stroke="#222" stroke-width="0.7"/><text x="513.6" y="131.6" font-size="8" text-anchor="middle" >0.0</text><line x1="542.2" y1="119.9" x2="542.2" y2="122.3" stroke="#222" stroke-width="0.7"/><text x="541.9" y="131.6" font-size="8" text-anchor="middle" >0.5</text><line x1="570.5" y1="119.9" x2="570.5" y2="122.3" stroke="#222" stroke-width="0.7"/><text x="570.1" y="131.6" font-size="8" text-anchor="middle" >1.0</text><line x1="598.8" y1="119.9" x2="598.8" y2="122.3" stroke="#222" stroke-width="0.7"/><text x="598.4" y="131.6" font-size="8" text-anchor="middle" >1.5</text><line x1="627.0" y1="119.9" x2="627.0" y2="122.3" stroke="#222" stroke-width="0.7"/><text x="626.6" y="131.6" font-size="8" text-anchor="middle" >2.0</text><text x="631.8" y="117.8" font-size="8" text-anchor="start" >(%/yr)</text><line x1="373.3" y1="308.0" x2="673.1" y2="147.3" stroke="#8a8a8a" stroke-width="0.8" stroke-dasharray="6,3.5"/><line x1="373.3" y1="200.9" x2="673.1" y2="200.9" stroke="#6a6a6a" stroke-width="1.3" stroke-dasharray="9.8,4.5"/><line x1="573.2" y1="147.3" x2="573.2" y2="308.0" stroke="#111" stroke-width="1.1" stroke-dasharray="10,4.2" stroke-dashoffset="-4"/><use href="#star" x="384.6" y="194.1"/><use href="#star" x="439.9" y="194.1"/><use href="#star" x="526.9" y="187.6"/><use href="#star" x="520.9" y="204.8"/><use href="#star" x="543.1" y="205.5"/><use href="#star" x="547.9" y="214.3"/><use href="#star" x="494.9" y="235.1"/><use href="#star" x="515.0" y="231.1"/><use href="#star" x="525.8" y="231.5"/><use href="#star" x="532.0" y="230.6"/><use href="#star" x="530.2" y="233.3"/><use href="#star" x="527.2" y="238.3"/><use href="#star" x="548.7" y="226.5"/><use href="#star" x="541.9" y="217.2"/><use href="#star" x="572.3" y="213.0"/><use href="#star" x="607.5" y="162.3"/><use href="#star" x="637.5" y="177.5"/><use href="#star" x="605.8" y="190.2"/><use href="#star" x="588.8" y="195.8"/><use href="#star" x="586.2" y="205.2"/><use href="#star" x="572.3" y="213.0"/><use href="#star" x="443.5" y="256.5"/><use href="#dia" x="384.2" y="222.4"/><use href="#dia" x="444.1" y="248.9"/><use href="#dia" x="438.9" y="255.1"/><use href="#dia" x="494.7" y="212.6"/><use href="#dia" x="515.0" y="216.7"/><use href="#dia" x="520.9" y="200.0"/><use href="#dia" x="527.4" y="202.4"/><use href="#dia" x="548.4" y="195.4"/><use href="#dia" x="531.7" y="223.4"/><use href="#dia" x="548.4" y="221.5"/><use href="#dia" x="524.0" y="225.8"/><use href="#dia" x="532.9" y="224.7"/><use href="#dia" x="527.2" y="241.4"/><use href="#dia" x="543.3" y="232.9"/><use href="#dia" x="572.3" y="163.5"/><use href="#dia" x="607.5" y="157.7"/><use href="#dia" x="605.8" y="172.9"/><use href="#dia" x="638.0" y="161.5"/><use href="#dia" x="589.3" y="192.0"/><use href="#dia" x="586.2" y="205.9"/><use href="#tri" x="384.2" y="244.3"/><use href="#tri" x="439.5" y="240.5"/><use href="#tri" x="443.5" y="254.7"/><use href="#tri" x="526.4" y="207.9"/><use href="#tri" x="548.4" y="199.0"/><use href="#tri" x="541.2" y="211.0"/><use href="#tri" x="547.2" y="211.4"/><use href="#tri" x="542.4" y="216.2"/><use href="#tri" x="524.5" y="219.8"/><use href="#tri" x="530.5" y="218.6"/><use href="#tri" x="494.9" y="228.3"/><use href="#tri" x="515.0" y="228.8"/><use href="#tri" x="521.3" y="231.9"/><use href="#tri" x="540.1" y="211.8"/><use href="#tri" x="570.6" y="221.6"/><use href="#tri" x="607.0" y="183.6"/><use href="#tri" x="605.8" y="188.1"/><use href="#tri" x="637.5" y="187.6"/><use href="#tri" x="582.0" y="199.0"/><use href="#tri" x="586.0" y="197.0"/><use href="#tri" x="590.0" y="195.0"/><use href="#tri" x="571.5" y="221.1"/><rect x="373.3" y="147.3" width="299.8" height="160.7" fill="none" stroke="#222" stroke-width="0.9"/><line x1="373.3" y1="308.0" x2="373.3" y2="310.5" stroke="#222" stroke-width="0.8"/><text x="371.4" y="321.2" font-size="8" text-anchor="middle" >-8</text><line x1="370.8" y1="308.0" x2="373.3" y2="308.0" stroke="#222" stroke-width="0.8"/><text x="367.5" y="310.9" font-size="8" text-anchor="end" >-8</text><line x1="423.3" y1="308.0" x2="423.3" y2="310.5" stroke="#222" stroke-width="0.8"/><text x="421.4" y="321.2" font-size="8" text-anchor="middle" >-6</text><line x1="370.8" y1="281.2" x2="373.3" y2="281.2" stroke="#222" stroke-width="0.8"/><text x="367.5" y="284.1" font-size="8" text-anchor="end" >-6</text><line x1="473.2" y1="308.0" x2="473.2" y2="310.5" stroke="#222" stroke-width="0.8"/><text x="471.3" y="321.2" font-size="8" text-anchor="middle" >-4</text><line x1="370.8" y1="254.4" x2="373.3" y2="254.4" stroke="#222" stroke-width="0.8"/><text x="367.5" y="257.3" font-size="8" text-anchor="end" >-4</text><line x1="523.2" y1="308.0" x2="523.2" y2="310.5" stroke="#222" stroke-width="0.8"/><text x="521.3" y="321.2" font-size="8" text-anchor="middle" >-2</text><line x1="370.8" y1="227.7" x2="373.3" y2="227.7" stroke="#222" stroke-width="0.8"/><text x="367.5" y="230.6" font-size="8" text-anchor="end" >-2</text><line x1="573.2" y1="308.0" x2="573.2" y2="310.5" stroke="#222" stroke-width="0.8"/><text x="573.2" y="321.2" font-size="8" text-anchor="middle" >0</text><line x1="370.8" y1="200.9" x2="373.3" y2="200.9" stroke="#222" stroke-width="0.8"/><text x="367.5" y="203.8" font-size="8" text-anchor="end" >0</text><line x1="623.1" y1="308.0" x2="623.1" y2="310.5" stroke="#222" stroke-width="0.8"/><text x="623.1" y="321.2" font-size="8" text-anchor="middle" >2</text><line x1="370.8" y1="174.1" x2="373.3" y2="174.1" stroke="#222" stroke-width="0.8"/><text x="367.5" y="177.0" font-size="8" text-anchor="end" >2</text><line x1="673.1" y1="308.0" x2="673.1" y2="310.5" stroke="#222" stroke-width="0.8"/><text x="673.1" y="321.2" font-size="8" text-anchor="middle" >4</text><line x1="370.8" y1="147.3" x2="373.3" y2="147.3" stroke="#222" stroke-width="0.8"/><text x="367.5" y="150.2" font-size="8" text-anchor="end" >4</text><text class="serif" x="376.6" y="162.0" font-size="10.4">(c)</text><text x="526.4" y="332.7" font-size="8" text-anchor="middle" >Slope from observation (%/yr)</text><text x="0" y="0" font-size="8" text-anchor="middle" transform="translate(359.8,235.9) rotate(-90)">Slope from simulation (%/yr)</text><use href="#star" x="592.2" y="231.0"/><text x="603.6" y="233.9" font-size="8" text-anchor="start" >GWM0 R<tspan font-size="4.6" dy="-2.7">2</tspan><tspan dy="2.7">:</tspan></text><text x="661.8" y="233.9" font-size="8" text-anchor="end" >-0.03</text><text x="603.6" y="245.2" font-size="8" text-anchor="start" >GWM1 R<tspan font-size="4.6" dy="-2.7">2</tspan><tspan dy="2.7">:</tspan></text><text x="661.8" y="245.2" font-size="8" text-anchor="end" >0.48</text><text x="603.6" y="256.4" font-size="8" text-anchor="start" >GWM2 R<tspan font-size="4.6" dy="-2.7">2</tspan><tspan dy="2.7">:</tspan></text><text x="661.8" y="256.4" font-size="8" text-anchor="end" >0.41</text><text x="603.6" y="267.6" font-size="8" text-anchor="start" >GWM3 R<tspan font-size="4.6" dy="-2.7">2</tspan><tspan dy="2.7">:</tspan></text><text x="661.8" y="267.6" font-size="8" text-anchor="end" >0.26</text><use href="#dia" x="592.2" y="276.0"/><text x="603.6" y="278.9" font-size="8" text-anchor="start" >GWM4 R<tspan font-size="4.6" dy="-2.7">2</tspan><tspan dy="2.7">:</tspan></text><text x="661.8" y="278.9" font-size="8" text-anchor="end" >0.40</text><text x="603.6" y="290.1" font-size="8" text-anchor="start" >GWM5 R<tspan font-size="4.6" dy="-2.7">2</tspan><tspan dy="2.7">:</tspan></text><text x="661.8" y="290.1" font-size="8" text-anchor="end" >0.36</text><use href="#tri" x="592.2" y="298.5"/><text x="603.6" y="301.4" font-size="8" text-anchor="start" >δHBV2 R<tspan font-size="4.6" dy="-2.7">2</tspan><tspan dy="2.7">:</tspan></text><text x="661.8" y="301.4" font-size="8" text-anchor="end" >0.68</text></svg></body></html>
